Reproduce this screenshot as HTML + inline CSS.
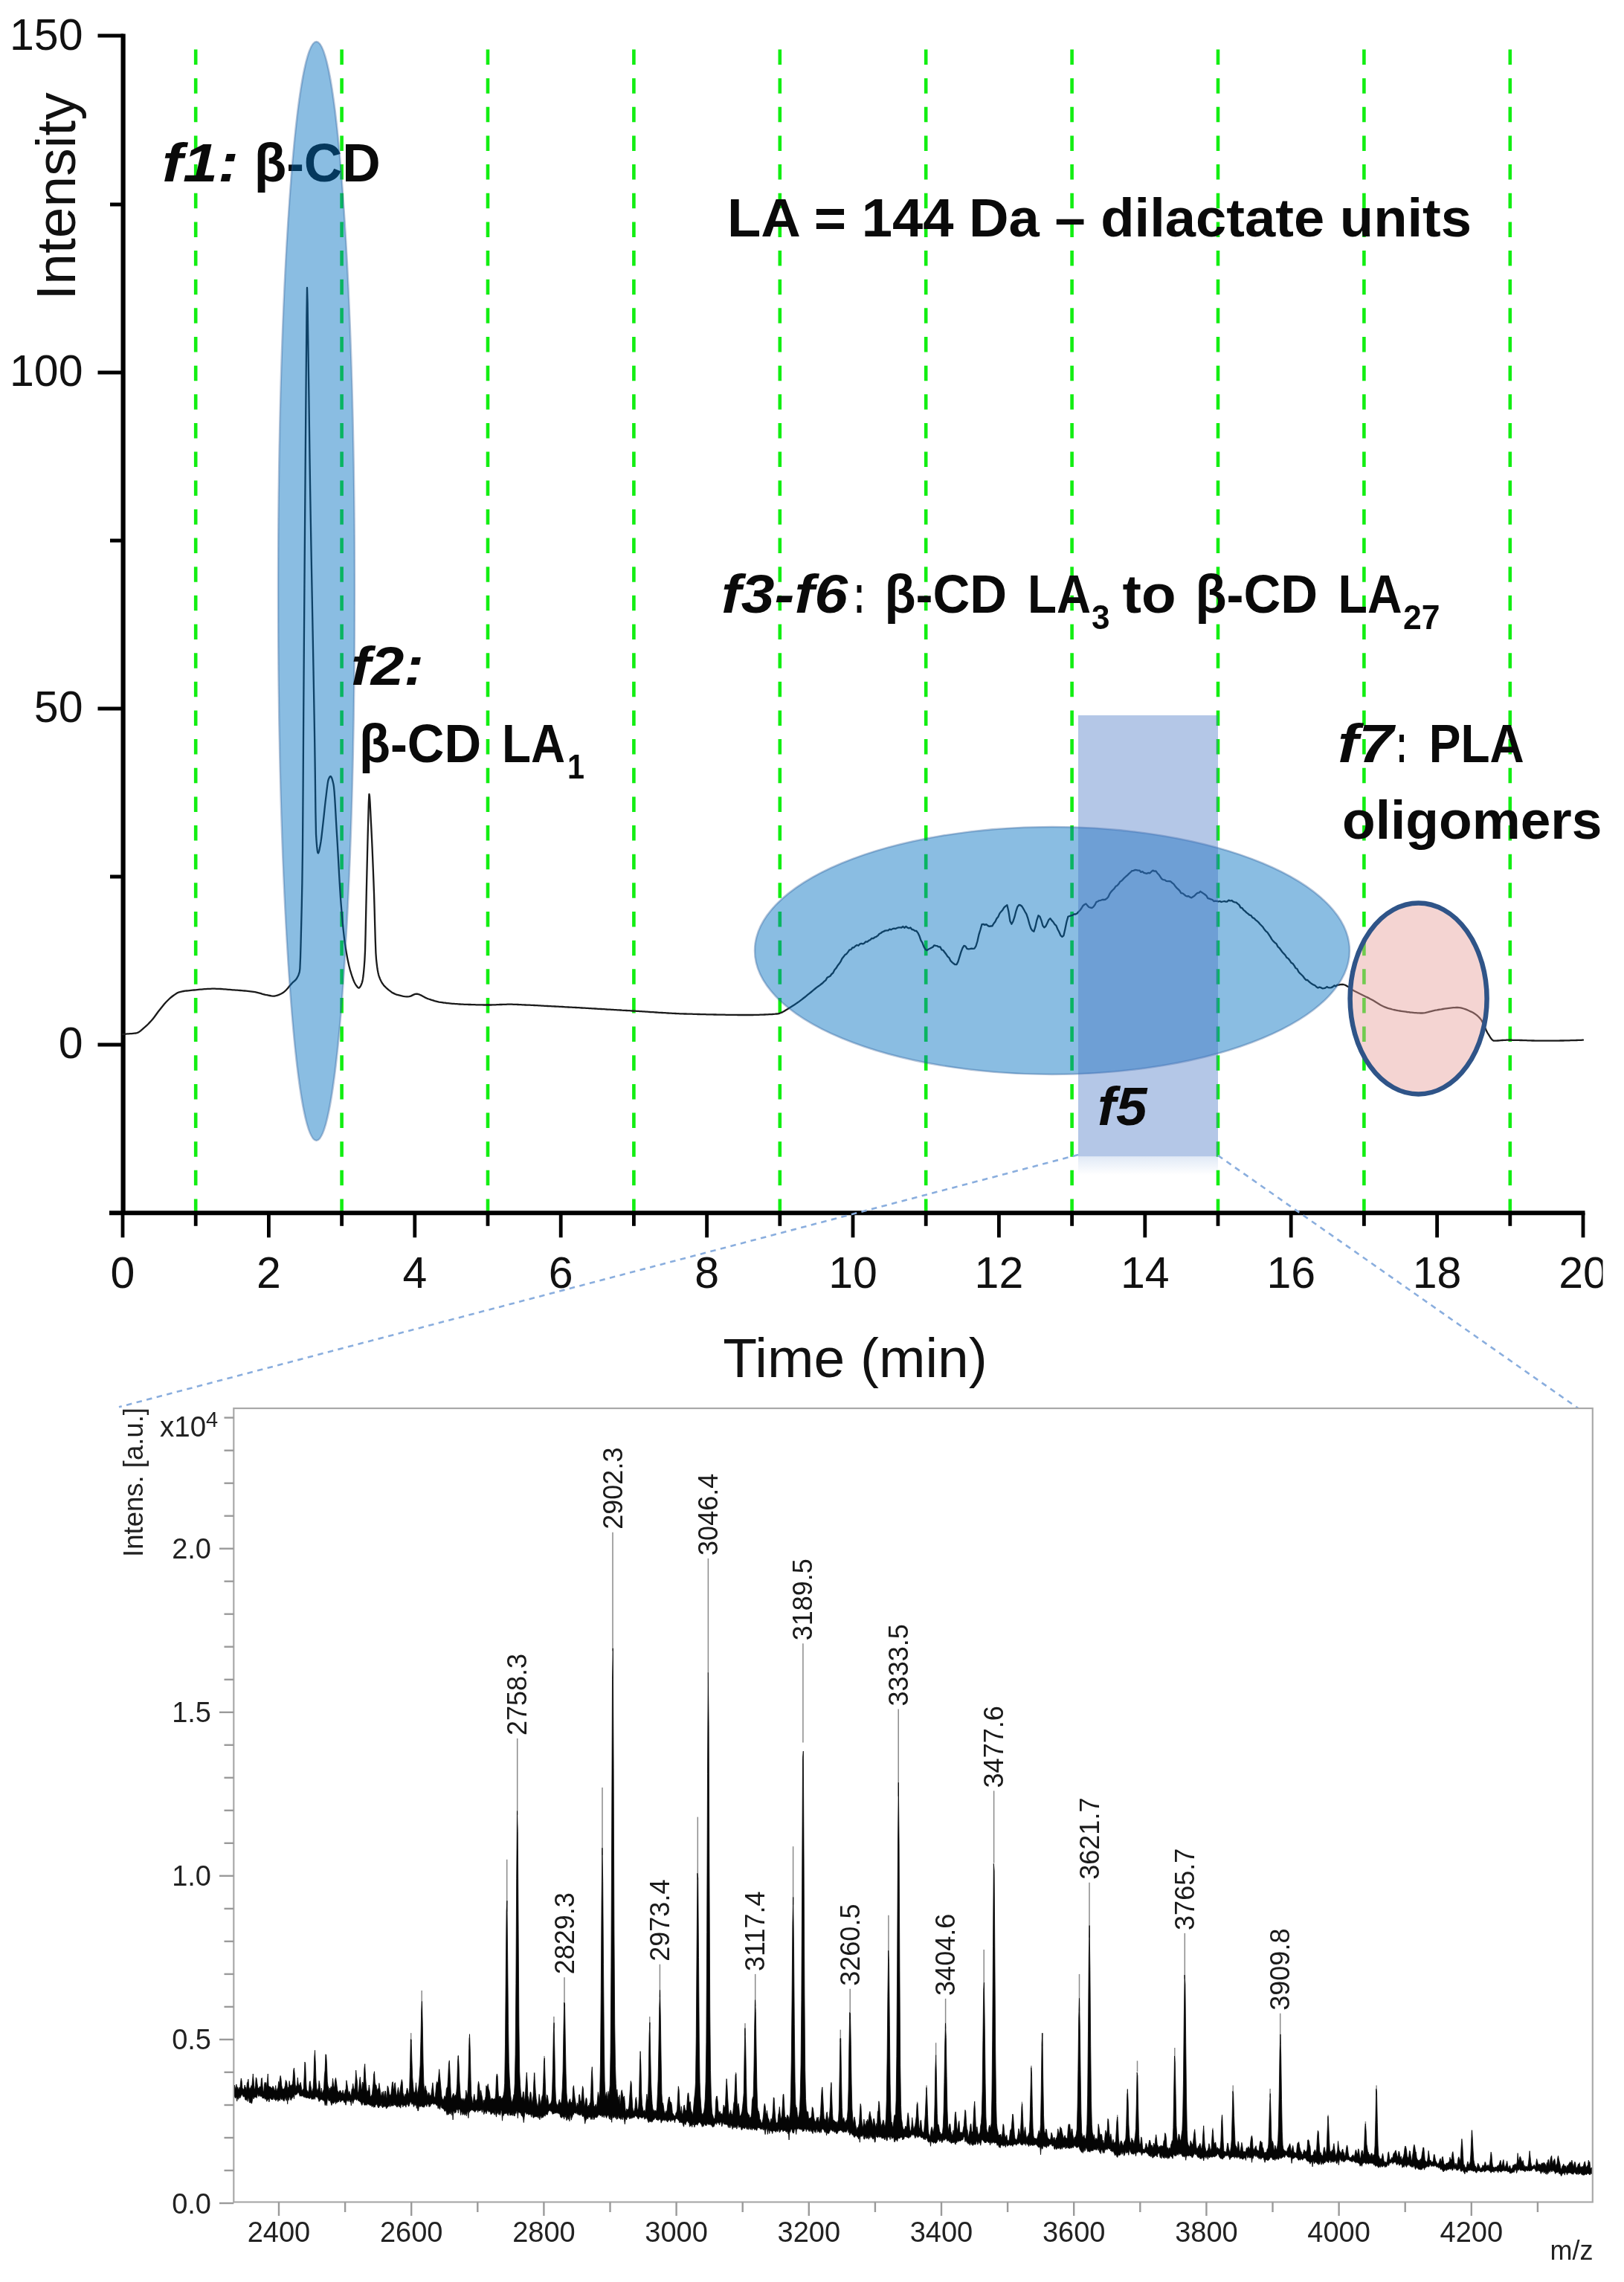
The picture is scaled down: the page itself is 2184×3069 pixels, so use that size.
<!DOCTYPE html>
<html lang="en"><head><meta charset="utf-8"><title>Chromatogram and MALDI spectrum</title>
<style>html,body{margin:0;padding:0;background:#fff}svg{display:block;filter:blur(0.7px)}</style></head>
<body>
<svg width="2184" height="3069" viewBox="0 0 2184 3069" font-family='"Liberation Sans", sans-serif'>
<rect width="2184" height="3069" fill="#fff"/>
<defs><clipPath id="clipR"><rect x="0" y="0" width="2155.5" height="3069"/></clipPath></defs>
<g stroke="#12ee12" stroke-width="4.6" stroke-dasharray="20.5 18.15" fill="none">
<line x1="263.2" y1="66.5" x2="263.2" y2="1630"/>
<line x1="459.6" y1="66.5" x2="459.6" y2="1630"/>
<line x1="656.0" y1="66.5" x2="656.0" y2="1630"/>
<line x1="852.4" y1="66.5" x2="852.4" y2="1630"/>
<line x1="1048.8" y1="66.5" x2="1048.8" y2="1630"/>
<line x1="1245.2" y1="66.5" x2="1245.2" y2="1630"/>
<line x1="1441.6" y1="66.5" x2="1441.6" y2="1630"/>
<line x1="1638.0" y1="66.5" x2="1638.0" y2="1630"/>
<line x1="1834.4" y1="66.5" x2="1834.4" y2="1630"/>
<line x1="2030.8" y1="66.5" x2="2030.8" y2="1630"/>
</g>
<g stroke="#000" fill="none">
<line x1="165.6" y1="45.5" x2="165.6" y2="1634" stroke-width="6.2"/>
<line x1="147" y1="1631.3" x2="2131.5" y2="1631.3" stroke-width="6"/>
<line x1="131.5" y1="48.0" x2="166" y2="48.0" stroke-width="5"/>
<line x1="131.5" y1="501.0" x2="166" y2="501.0" stroke-width="5"/>
<line x1="131.5" y1="953.0" x2="166" y2="953.0" stroke-width="5"/>
<line x1="131.5" y1="1405.0" x2="166" y2="1405.0" stroke-width="5"/>
<line x1="148" y1="275.0" x2="166" y2="275.0" stroke-width="5"/>
<line x1="148" y1="727.0" x2="166" y2="727.0" stroke-width="5"/>
<line x1="148" y1="1179.0" x2="166" y2="1179.0" stroke-width="5"/>
<line x1="165.0" y1="1631" x2="165.0" y2="1664.3" stroke-width="4.8"/>
<line x1="263.2" y1="1631" x2="263.2" y2="1648.8" stroke-width="4.8"/>
<line x1="361.4" y1="1631" x2="361.4" y2="1664.3" stroke-width="4.8"/>
<line x1="459.6" y1="1631" x2="459.6" y2="1648.8" stroke-width="4.8"/>
<line x1="557.8" y1="1631" x2="557.8" y2="1664.3" stroke-width="4.8"/>
<line x1="656.0" y1="1631" x2="656.0" y2="1648.8" stroke-width="4.8"/>
<line x1="754.2" y1="1631" x2="754.2" y2="1664.3" stroke-width="4.8"/>
<line x1="852.4" y1="1631" x2="852.4" y2="1648.8" stroke-width="4.8"/>
<line x1="950.6" y1="1631" x2="950.6" y2="1664.3" stroke-width="4.8"/>
<line x1="1048.8" y1="1631" x2="1048.8" y2="1648.8" stroke-width="4.8"/>
<line x1="1147.0" y1="1631" x2="1147.0" y2="1664.3" stroke-width="4.8"/>
<line x1="1245.2" y1="1631" x2="1245.2" y2="1648.8" stroke-width="4.8"/>
<line x1="1343.4" y1="1631" x2="1343.4" y2="1664.3" stroke-width="4.8"/>
<line x1="1441.6" y1="1631" x2="1441.6" y2="1648.8" stroke-width="4.8"/>
<line x1="1539.8" y1="1631" x2="1539.8" y2="1664.3" stroke-width="4.8"/>
<line x1="1638.0" y1="1631" x2="1638.0" y2="1648.8" stroke-width="4.8"/>
<line x1="1736.2" y1="1631" x2="1736.2" y2="1664.3" stroke-width="4.8"/>
<line x1="1834.4" y1="1631" x2="1834.4" y2="1648.8" stroke-width="4.8"/>
<line x1="1932.6" y1="1631" x2="1932.6" y2="1664.3" stroke-width="4.8"/>
<line x1="2030.8" y1="1631" x2="2030.8" y2="1648.8" stroke-width="4.8"/>
<line x1="2129.0" y1="1631" x2="2129.0" y2="1664.3" stroke-width="4.8"/>
</g>
<g font-size="59" fill="#111" clip-path="url(#clipR)">
<text x="111.5" y="66.5" text-anchor="end">150</text>
<text x="111.5" y="518.5" text-anchor="end">100</text>
<text x="111.5" y="970.5" text-anchor="end">50</text>
<text x="111.5" y="1422.5" text-anchor="end">0</text>
<text x="165.0" y="1732" text-anchor="middle">0</text>
<text x="361.4" y="1732" text-anchor="middle">2</text>
<text x="557.8" y="1732" text-anchor="middle">4</text>
<text x="754.2" y="1732" text-anchor="middle">6</text>
<text x="950.6" y="1732" text-anchor="middle">8</text>
<text x="1147.0" y="1732" text-anchor="middle">10</text>
<text x="1343.4" y="1732" text-anchor="middle">12</text>
<text x="1539.8" y="1732" text-anchor="middle">14</text>
<text x="1736.2" y="1732" text-anchor="middle">16</text>
<text x="1932.6" y="1732" text-anchor="middle">18</text>
<text x="2129.0" y="1732" text-anchor="middle">20</text>
</g>
<text x="1150" y="1852" font-size="75" text-anchor="middle" fill="#111">Time (min)</text>
<text transform="translate(101,264) rotate(-90)" font-size="75" text-anchor="middle" fill="#111">Intensity</text>
<polyline fill="none" stroke="#1a1a1a" stroke-width="2.3" stroke-linejoin="round" stroke-linecap="round" points="165.0,1391.0 167.0,1390.8 169.0,1390.6 171.0,1390.4 173.0,1390.3 175.0,1390.2 177.0,1390.1 179.0,1389.9 181.0,1389.7 183.0,1389.5 185.0,1388.9 187.0,1387.8 189.0,1386.3 191.0,1384.6 193.0,1382.8 195.0,1381.2 197.0,1379.4 199.0,1377.5 201.0,1375.4 203.0,1373.3 205.0,1371.0 207.0,1368.5 209.0,1365.8 211.0,1363.0 213.0,1360.3 215.0,1357.7 217.0,1355.2 219.0,1352.7 221.0,1350.3 223.0,1348.0 225.0,1346.0 227.0,1344.0 229.0,1342.2 231.0,1340.5 233.0,1339.0 235.0,1337.6 237.0,1336.3 239.0,1335.1 241.0,1334.3 243.0,1333.8 245.0,1333.4 247.0,1333.0 249.0,1332.7 251.0,1332.5 253.0,1332.3 255.0,1332.1 257.0,1331.9 259.0,1331.7 261.0,1331.5 263.0,1331.3 265.0,1331.1 267.0,1330.9 269.0,1330.7 271.0,1330.6 273.0,1330.4 275.0,1330.2 277.0,1330.1 279.0,1329.9 281.0,1329.8 283.0,1329.8 285.0,1329.7 287.0,1329.7 289.0,1329.7 291.0,1329.8 293.0,1329.8 295.0,1329.9 297.0,1330.0 299.0,1330.1 301.0,1330.3 303.0,1330.4 305.0,1330.6 307.0,1330.8 309.0,1330.9 311.0,1331.1 313.0,1331.3 315.0,1331.4 317.0,1331.6 319.0,1331.7 321.0,1331.9 323.0,1332.0 325.0,1332.2 327.0,1332.4 329.0,1332.5 331.0,1332.7 333.0,1332.9 335.0,1333.1 337.0,1333.3 339.0,1333.6 341.0,1333.9 343.0,1334.2 345.0,1334.6 347.0,1335.1 349.0,1335.6 351.0,1336.2 353.0,1336.8 355.0,1337.3 357.0,1337.8 359.0,1338.2 361.0,1338.6 363.0,1339.0 365.0,1339.4 367.0,1339.6 369.0,1339.6 371.0,1339.2 373.0,1338.6 375.0,1337.9 377.0,1337.0 379.0,1336.0 381.0,1334.8 383.0,1333.2 385.0,1331.2 387.0,1329.0 389.0,1326.6 391.0,1324.2 393.0,1321.9 395.0,1320.2 397.0,1318.4 399.0,1316.0 401.0,1312.2 401.6,1310.7 402.2,1309.0 402.8,1307.1 403.4,1302.3 404.0,1287.9 404.6,1266.8 405.2,1242.3 405.8,1217.3 406.4,1186.1 407.0,1140.2 407.6,1058.7 408.2,960.5 408.8,872.6 409.4,791.9 410.0,713.5 410.6,637.4 411.2,560.9 411.8,490.4 412.4,426.8 413.0,387.0 413.0,387.0 413.6,407.3 414.2,449.5 414.8,489.5 415.4,532.8 416.0,578.6 416.6,623.1 417.2,662.5 417.8,698.6 418.4,732.6 419.0,765.3 419.6,797.2 420.2,828.9 420.8,861.1 421.4,894.3 422.0,928.3 422.6,962.5 423.2,998.3 423.8,1041.1 424.4,1091.4 425.0,1121.7 425.6,1131.2 426.2,1138.7 426.8,1144.0 427.4,1146.9 428.0,1147.4 428.6,1146.3 429.2,1144.2 429.8,1141.4 430.4,1138.2 431.0,1135.0 431.6,1131.4 432.2,1127.0 432.8,1122.0 433.4,1116.7 434.0,1111.4 434.6,1106.1 435.2,1100.7 435.8,1095.1 436.4,1089.3 437.0,1083.6 437.6,1078.3 438.2,1073.4 438.8,1068.3 439.4,1063.2 440.0,1058.3 440.6,1053.9 441.2,1050.4 441.8,1048.1 442.4,1046.7 443.0,1045.5 443.6,1044.6 444.2,1044.1 444.5,1044.0 444.8,1044.1 445.4,1044.7 446.0,1045.9 446.6,1047.5 447.2,1049.6 447.8,1051.9 448.4,1054.5 449.0,1058.3 449.6,1064.7 450.2,1073.1 450.8,1082.9 451.4,1093.6 452.0,1104.6 452.6,1115.1 453.2,1124.9 453.8,1134.9 454.4,1145.5 455.0,1156.3 455.6,1167.3 456.2,1178.1 456.8,1188.5 457.4,1198.3 458.0,1207.3 458.6,1215.3 459.2,1222.7 459.8,1229.8 460.4,1236.6 461.0,1243.1 461.6,1249.3 462.2,1255.0 462.8,1260.3 463.4,1265.2 464.0,1269.5 464.6,1273.5 465.2,1277.3 465.8,1280.9 466.4,1284.3 467.0,1287.6 467.6,1290.7 468.2,1293.6 468.8,1296.3 469.4,1298.9 470.0,1301.3 470.6,1303.6 471.2,1305.7 471.8,1307.7 472.4,1309.7 473.0,1311.5 473.6,1313.3 474.2,1315.0 474.8,1316.7 475.4,1318.2 476.0,1319.7 476.6,1321.0 477.2,1322.2 477.8,1323.3 478.4,1324.3 479.0,1325.2 479.6,1326.0 480.2,1326.8 480.8,1327.6 481.4,1328.1 482.0,1328.5 482.6,1328.6 483.2,1328.4 483.8,1327.8 484.4,1327.0 485.0,1326.0 485.6,1324.7 486.2,1323.2 486.8,1321.6 487.4,1319.6 488.0,1316.4 488.6,1312.0 489.2,1306.3 489.8,1299.3 490.4,1291.1 491.0,1278.7 491.6,1255.8 492.2,1227.5 492.8,1199.8 493.4,1174.5 494.0,1148.8 494.6,1125.2 495.2,1102.6 495.8,1080.3 496.4,1068.3 496.5,1068.0 497.0,1070.6 497.6,1079.0 498.2,1090.8 498.8,1103.2 499.4,1114.6 500.0,1127.0 500.6,1140.4 501.2,1154.6 501.8,1169.5 502.4,1185.0 503.0,1201.3 503.6,1221.6 504.2,1244.1 504.8,1265.2 505.4,1281.5 506.0,1290.1 506.6,1295.7 507.2,1300.5 507.8,1304.5 508.4,1307.8 509.0,1310.5 509.6,1312.6 510.2,1314.3 510.8,1315.8 511.4,1317.2 512.0,1318.5 512.6,1319.7 513.2,1320.8 513.8,1321.8 514.4,1322.8 515.0,1323.6 515.6,1324.4 516.2,1325.2 516.8,1325.9 517.4,1326.5 518.0,1327.2 518.6,1327.7 519.2,1328.3 519.8,1328.9 520.4,1329.4 522.4,1331.2 524.4,1332.7 526.4,1334.2 528.4,1335.4 530.4,1336.4 532.4,1337.3 534.4,1337.9 536.4,1338.4 538.4,1338.9 540.4,1339.4 542.4,1339.8 544.4,1340.1 546.4,1340.3 548.4,1340.4 550.4,1340.2 552.4,1339.6 554.4,1338.6 556.4,1337.6 558.4,1336.9 560.4,1336.7 562.4,1337.0 564.4,1337.7 566.4,1338.6 568.4,1339.7 570.4,1340.8 572.4,1341.9 574.4,1342.8 576.4,1343.5 578.4,1344.1 580.4,1344.8 582.4,1345.4 584.4,1346.1 586.4,1346.6 588.4,1347.1 590.4,1347.6 592.4,1347.9 594.4,1348.2 596.4,1348.5 598.4,1348.7 600.4,1349.0 602.4,1349.2 604.4,1349.4 606.4,1349.6 608.4,1349.8 610.4,1349.9 612.4,1350.1 614.4,1350.2 616.4,1350.4 618.4,1350.5 620.4,1350.6 622.4,1350.7 624.4,1350.8 626.4,1350.8 628.4,1350.9 630.4,1351.0 632.4,1351.0 634.4,1351.1 636.4,1351.2 638.4,1351.2 640.4,1351.3 642.4,1351.3 644.4,1351.4 646.4,1351.4 648.4,1351.4 650.4,1351.5 652.4,1351.5 654.4,1351.5 656.4,1351.5 658.4,1351.5 660.4,1351.5 662.4,1351.4 664.4,1351.3 666.4,1351.3 668.4,1351.2 670.4,1351.1 672.4,1351.0 674.4,1351.0 676.4,1350.9 678.4,1350.8 680.4,1350.8 682.4,1350.7 684.4,1350.7 686.4,1350.7 688.4,1350.7 690.4,1350.8 692.4,1350.9 694.4,1350.9 696.4,1351.0 698.4,1351.1 700.4,1351.2 702.4,1351.3 704.4,1351.4 706.4,1351.5 708.4,1351.6 710.4,1351.6 712.4,1351.7 714.4,1351.8 716.4,1351.9 718.4,1352.0 720.4,1352.1 722.4,1352.2 724.4,1352.3 726.4,1352.4 728.4,1352.6 730.4,1352.7 732.4,1352.8 734.4,1352.9 736.4,1353.0 738.4,1353.1 740.4,1353.2 742.4,1353.3 744.4,1353.4 746.4,1353.5 748.4,1353.6 750.4,1353.7 752.4,1353.8 754.4,1353.9 756.4,1354.0 758.4,1354.1 760.4,1354.3 762.4,1354.4 764.4,1354.5 766.4,1354.6 768.4,1354.7 770.4,1354.8 772.4,1354.9 774.4,1355.0 776.4,1355.1 778.4,1355.2 780.4,1355.4 782.4,1355.5 784.4,1355.6 786.4,1355.7 788.4,1355.8 790.4,1355.9 792.4,1356.1 794.4,1356.2 796.4,1356.3 798.4,1356.4 800.4,1356.5 802.4,1356.6 804.4,1356.8 806.4,1356.9 808.4,1357.0 810.4,1357.1 812.4,1357.2 814.4,1357.3 816.4,1357.5 818.4,1357.6 820.4,1357.7 822.4,1357.8 824.4,1357.9 826.4,1358.1 828.4,1358.2 830.4,1358.3 832.4,1358.4 834.4,1358.5 836.4,1358.7 838.4,1358.8 840.4,1358.9 842.4,1359.0 844.4,1359.1 846.4,1359.2 848.4,1359.4 850.4,1359.5 852.4,1359.6 854.4,1359.7 856.4,1359.8 858.4,1359.9 860.4,1360.1 862.4,1360.2 864.4,1360.3 866.4,1360.4 868.4,1360.6 870.4,1360.7 872.4,1360.8 874.4,1361.0 876.4,1361.1 878.4,1361.2 880.4,1361.4 882.4,1361.5 884.4,1361.6 886.4,1361.8 888.4,1361.9 890.4,1362.0 892.4,1362.1 894.4,1362.2 896.4,1362.4 898.4,1362.5 900.4,1362.6 902.4,1362.7 904.4,1362.8 906.4,1362.9 908.4,1363.0 910.4,1363.1 912.4,1363.2 914.4,1363.3 916.4,1363.3 918.4,1363.4 920.4,1363.5 922.4,1363.5 924.4,1363.6 926.4,1363.6 928.4,1363.7 930.4,1363.7 932.4,1363.8 934.4,1363.8 936.4,1363.9 938.4,1364.0 940.4,1364.0 942.4,1364.1 944.4,1364.1 946.4,1364.2 948.4,1364.2 950.4,1364.3 952.4,1364.3 954.4,1364.3 956.4,1364.4 958.4,1364.4 960.4,1364.5 962.4,1364.5 964.4,1364.6 966.4,1364.6 968.4,1364.6 970.4,1364.7 972.4,1364.7 974.4,1364.7 976.4,1364.8 978.4,1364.8 980.4,1364.8 982.4,1364.9 984.4,1364.9 986.4,1364.9 988.4,1364.9 990.4,1364.9 992.4,1365.0 994.4,1365.0 996.4,1365.0 998.4,1365.0 1000.4,1365.0 1002.4,1365.0 1004.4,1365.0 1006.4,1365.0 1008.4,1365.0 1010.4,1365.0 1012.4,1365.0 1014.4,1364.9 1016.4,1364.9 1018.4,1364.8 1020.4,1364.8 1022.4,1364.7 1024.4,1364.7 1026.4,1364.6 1028.4,1364.5 1030.4,1364.4 1032.4,1364.3 1034.4,1364.2 1036.4,1364.1 1038.4,1364.0 1040.4,1363.8 1042.4,1363.7 1044.4,1363.5 1046.4,1363.3 1048.4,1362.8 1050.4,1362.0 1052.4,1361.1 1054.4,1360.0 1056.4,1358.8 1058.4,1357.6 1060.4,1356.3 1062.4,1355.0 1064.4,1353.8 1066.4,1352.5 1068.4,1351.3 1070.4,1349.9 1072.4,1348.5 1074.4,1347.1 1076.4,1345.6 1078.4,1344.1 1080.4,1342.5 1082.4,1341.0 1084.4,1339.4 1086.4,1337.7 1088.4,1336.1 1090.4,1334.5 1092.4,1332.8 1094.4,1331.2 1096.4,1329.5 1098.4,1327.9 1100.4,1326.5 1102.4,1325.1 1104.4,1323.5 1106.4,1322.0 1108.4,1319.9 1110.4,1318.4 1112.4,1314.8 1114.4,1313.7 1116.4,1312.7 1118.4,1310.0 1120.4,1308.3 1122.4,1304.2 1124.4,1302.1 1126.4,1298.8 1128.4,1296.3 1130.4,1293.4 1132.4,1289.2 1134.4,1286.7 1136.4,1284.1 1138.4,1282.9 1140.4,1280.4 1142.4,1277.3 1144.4,1277.1 1146.4,1274.5 1148.4,1274.3 1150.4,1272.2 1152.4,1271.0 1154.4,1271.8 1156.4,1269.6 1158.4,1268.8 1160.4,1269.5 1162.4,1268.4 1164.4,1266.3 1166.4,1266.7 1168.4,1264.9 1170.4,1264.0 1172.4,1261.9 1174.4,1262.2 1176.4,1260.5 1178.4,1259.8 1180.4,1258.4 1182.4,1256.0 1184.4,1255.0 1186.4,1253.5 1188.4,1252.6 1190.4,1251.6 1192.4,1251.4 1194.4,1251.4 1196.4,1249.6 1198.4,1250.4 1200.4,1249.1 1202.4,1248.6 1204.4,1249.1 1206.4,1248.0 1208.4,1247.3 1210.4,1247.3 1212.4,1247.5 1214.4,1246.0 1216.4,1247.8 1218.4,1245.9 1220.4,1247.7 1222.4,1248.4 1224.4,1247.5 1226.4,1250.0 1228.4,1250.3 1230.4,1251.9 1232.4,1252.0 1234.4,1254.6 1236.4,1258.7 1238.4,1264.7 1240.4,1267.9 1242.4,1273.2 1244.4,1276.6 1246.4,1278.1 1248.4,1276.7 1250.4,1275.8 1252.4,1274.8 1254.4,1273.8 1256.4,1271.3 1258.4,1271.9 1260.4,1272.2 1262.4,1273.4 1264.4,1273.5 1266.4,1277.4 1268.4,1278.0 1270.4,1280.7 1272.4,1283.3 1274.4,1286.4 1276.4,1288.1 1278.4,1292.2 1280.4,1294.1 1282.4,1295.8 1284.4,1297.2 1286.4,1297.2 1288.4,1293.4 1290.4,1286.8 1292.4,1280.3 1294.4,1275.1 1296.4,1271.8 1298.4,1272.5 1300.4,1275.9 1302.4,1276.3 1304.4,1276.2 1306.4,1275.6 1308.4,1275.9 1310.4,1275.7 1312.4,1272.5 1314.4,1266.0 1316.4,1256.9 1318.4,1250.5 1320.4,1243.2 1322.4,1242.9 1324.4,1243.9 1326.4,1243.1 1328.4,1244.9 1330.4,1245.9 1332.4,1245.5 1334.4,1245.4 1336.4,1242.0 1338.4,1239.6 1340.4,1235.3 1342.4,1232.9 1344.4,1228.4 1346.4,1225.9 1348.4,1223.7 1350.4,1220.4 1352.4,1218.6 1354.4,1217.2 1356.4,1226.1 1358.4,1238.8 1360.4,1242.8 1362.4,1239.2 1364.4,1233.2 1366.4,1225.3 1368.4,1219.4 1370.4,1217.0 1372.4,1217.3 1374.4,1219.0 1376.4,1222.3 1378.4,1226.0 1380.4,1229.4 1382.4,1235.2 1384.4,1242.6 1386.4,1248.6 1388.4,1251.6 1390.4,1252.7 1392.4,1246.4 1394.4,1237.3 1396.4,1231.3 1398.4,1232.6 1400.4,1237.8 1402.4,1245.1 1404.4,1247.4 1406.4,1245.6 1408.4,1241.4 1410.4,1237.0 1412.4,1235.2 1414.4,1237.9 1416.4,1240.0 1418.4,1243.1 1420.4,1244.9 1422.4,1249.7 1424.4,1253.5 1426.4,1258.1 1428.4,1259.8 1430.4,1258.3 1432.4,1249.4 1434.4,1239.7 1436.4,1232.8 1438.4,1232.0 1440.4,1231.3 1442.4,1230.8 1444.4,1229.3 1446.4,1229.5 1448.4,1228.5 1450.4,1226.2 1452.4,1224.2 1454.4,1221.5 1456.4,1218.2 1458.4,1216.5 1460.4,1215.4 1462.4,1217.9 1464.4,1220.0 1466.4,1220.6 1468.4,1221.2 1470.4,1219.6 1472.4,1217.0 1474.4,1213.1 1476.4,1212.3 1478.4,1211.1 1480.4,1210.8 1482.4,1210.0 1484.4,1210.0 1486.4,1209.8 1488.4,1208.4 1490.4,1206.2 1492.4,1201.9 1494.4,1199.1 1496.4,1197.0 1498.4,1195.2 1500.4,1192.1 1502.4,1191.0 1504.4,1188.8 1506.4,1185.7 1508.4,1184.6 1510.4,1182.4 1512.4,1180.3 1514.4,1178.5 1516.4,1176.9 1518.4,1174.8 1520.4,1173.0 1522.4,1171.2 1524.4,1170.9 1526.4,1170.0 1528.4,1170.2 1530.4,1170.6 1532.4,1170.6 1534.4,1172.9 1536.4,1172.1 1538.4,1173.9 1540.4,1174.3 1542.4,1174.8 1544.4,1173.8 1546.4,1174.3 1548.4,1172.2 1550.4,1170.6 1552.4,1171.6 1554.4,1171.4 1556.4,1174.2 1558.4,1176.2 1560.4,1179.2 1562.4,1182.1 1564.4,1183.2 1566.4,1183.3 1568.4,1184.8 1570.4,1185.1 1572.4,1185.2 1574.4,1185.5 1576.4,1187.4 1578.4,1188.9 1580.4,1191.7 1582.4,1194.1 1584.4,1195.9 1586.4,1197.9 1588.4,1201.2 1590.4,1201.4 1592.4,1202.9 1594.4,1204.7 1596.4,1205.5 1598.4,1205.2 1600.4,1206.6 1602.4,1207.4 1604.4,1206.0 1606.4,1204.8 1608.4,1202.6 1610.4,1200.9 1612.4,1200.7 1614.4,1198.8 1616.4,1200.3 1618.4,1201.6 1620.4,1203.0 1622.4,1204.6 1624.4,1208.1 1626.4,1208.7 1628.4,1209.4 1630.4,1210.0 1632.4,1212.0 1634.4,1211.7 1636.4,1211.8 1638.4,1212.5 1640.4,1212.0 1642.4,1213.0 1644.4,1212.5 1646.4,1212.0 1648.4,1212.7 1650.4,1212.5 1652.4,1210.6 1654.4,1211.5 1656.4,1211.0 1658.4,1212.7 1660.4,1213.3 1662.4,1213.6 1664.4,1215.3 1666.4,1216.9 1668.4,1220.6 1670.4,1221.2 1672.4,1223.8 1674.4,1225.4 1676.4,1227.3 1678.4,1228.8 1680.4,1230.7 1682.4,1231.1 1684.4,1234.1 1686.4,1234.8 1688.4,1237.1 1690.4,1238.5 1692.4,1240.3 1694.4,1242.8 1696.4,1244.8 1698.4,1246.8 1700.4,1250.0 1702.4,1252.3 1704.4,1253.8 1706.4,1256.8 1708.4,1259.9 1710.4,1263.4 1712.4,1265.9 1714.4,1267.7 1716.4,1269.1 1718.4,1273.1 1720.4,1274.8 1722.4,1277.5 1724.4,1280.2 1726.4,1282.4 1728.4,1284.5 1730.4,1287.8 1732.4,1289.1 1734.4,1291.5 1736.4,1294.7 1738.4,1295.8 1740.4,1298.4 1742.4,1302.0 1744.4,1303.0 1746.4,1307.0 1748.4,1309.2 1750.4,1311.0 1752.4,1313.0 1754.4,1315.9 1756.4,1318.0 1758.4,1318.0 1760.4,1320.2 1762.4,1321.9 1764.4,1323.3 1766.4,1324.4 1768.4,1325.3 1770.4,1327.3 1772.4,1328.5 1774.4,1327.6 1776.4,1328.2 1778.4,1329.3 1780.4,1329.1 1782.4,1328.6 1784.4,1327.1 1786.4,1328.2 1788.4,1328.4 1790.4,1328.1 1792.4,1327.1 1794.4,1325.4 1796.4,1326.4 1798.4,1324.6 1800.4,1324.6 1802.4,1324.2 1804.4,1323.9 1806.4,1324.0 1808.4,1324.5 1810.4,1325.5 1812.4,1326.7 1814.4,1328.2 1816.4,1329.7 1818.4,1331.1 1820.4,1332.2 1822.4,1333.3 1824.4,1334.3 1826.4,1335.3 1828.4,1336.3 1830.4,1337.2 1832.4,1338.2 1834.4,1339.2 1836.4,1340.2 1838.4,1341.1 1840.4,1342.1 1842.4,1343.2 1844.4,1344.2 1846.4,1345.3 1848.4,1346.5 1850.4,1347.8 1852.4,1349.0 1854.4,1350.2 1856.4,1351.4 1858.4,1352.5 1860.4,1353.5 1862.4,1354.4 1864.4,1355.1 1866.4,1355.8 1868.4,1356.4 1870.4,1356.9 1872.4,1357.5 1874.4,1358.0 1876.4,1358.4 1878.4,1358.8 1880.4,1359.2 1882.4,1359.5 1884.4,1359.8 1886.4,1360.1 1888.4,1360.4 1890.4,1360.7 1892.4,1361.0 1894.4,1361.2 1896.4,1361.5 1898.4,1361.7 1900.4,1361.9 1902.4,1362.1 1904.4,1362.2 1906.4,1362.4 1908.4,1362.4 1910.4,1362.5 1912.4,1362.5 1914.4,1362.3 1916.4,1362.1 1918.4,1361.7 1920.4,1361.2 1922.4,1360.6 1924.4,1360.1 1926.4,1359.6 1928.4,1359.1 1930.4,1358.7 1932.4,1358.4 1934.4,1358.0 1936.4,1357.7 1938.4,1357.4 1940.4,1357.0 1942.4,1356.7 1944.4,1356.4 1946.4,1356.1 1948.4,1355.8 1950.4,1355.6 1952.4,1355.4 1954.4,1355.2 1956.4,1355.1 1958.4,1355.0 1960.4,1355.0 1962.4,1355.1 1964.4,1355.4 1966.4,1355.9 1968.4,1356.5 1970.4,1357.2 1972.4,1357.9 1974.4,1358.8 1976.4,1359.7 1978.4,1360.6 1980.4,1361.5 1982.4,1362.7 1984.4,1364.1 1986.4,1365.7 1988.4,1367.5 1990.4,1369.6 1992.4,1372.1 1994.4,1375.9 1996.4,1380.4 1998.4,1385.0 2000.4,1389.0 2002.4,1392.2 2004.4,1395.5 2006.4,1398.1 2008.4,1399.6 2010.4,1399.7 2012.4,1399.6 2014.4,1399.5 2016.4,1399.4 2018.4,1399.2 2020.4,1399.0 2022.4,1398.9 2024.4,1398.8 2026.4,1398.7 2028.4,1398.7 2030.4,1398.7 2032.4,1398.7 2034.4,1398.8 2036.4,1398.8 2038.4,1398.8 2040.4,1398.9 2042.4,1398.9 2044.4,1399.0 2046.4,1399.0 2048.4,1399.1 2050.4,1399.2 2052.4,1399.2 2054.4,1399.3 2056.4,1399.3 2058.4,1399.4 2060.4,1399.5 2062.4,1399.5 2064.4,1399.6 2066.4,1399.6 2068.4,1399.6 2070.4,1399.7 2072.4,1399.7 2074.4,1399.7 2076.4,1399.7 2078.4,1399.7 2080.4,1399.7 2082.4,1399.7 2084.4,1399.7 2086.4,1399.7 2088.4,1399.6 2090.4,1399.6 2092.4,1399.6 2094.4,1399.6 2096.4,1399.6 2098.4,1399.5 2100.4,1399.5 2102.4,1399.5 2104.4,1399.4 2106.4,1399.4 2108.4,1399.3 2110.4,1399.3 2112.4,1399.2 2114.4,1399.2 2116.4,1399.1 2118.4,1399.1 2120.4,1399.0 2122.4,1398.9 2124.4,1398.9 2126.4,1398.8 2128.4,1398.7 2129.0,1398.7"/>
<text x="218.0" y="244.0" font-size="72" font-weight="bold" font-style="italic" textLength="103.0" lengthAdjust="spacingAndGlyphs" text-anchor="start" fill="#0a0a0a">f1:</text>
<text x="341.7" y="244.0" font-size="72" font-weight="bold" textLength="170.0" lengthAdjust="spacingAndGlyphs" text-anchor="start" fill="#0a0a0a">β-CD</text>
<ellipse cx="425.5" cy="795" rx="51.5" ry="739" fill="rgba(0,112,192,0.46)" stroke="rgba(40,90,150,0.35)" stroke-width="2.5"/>
<ellipse cx="1415" cy="1278.5" rx="400" ry="166.5" fill="rgba(0,112,192,0.46)" stroke="rgba(40,90,150,0.35)" stroke-width="2.5"/>
<defs><linearGradient id="refl" x1="0" y1="0" x2="0" y2="1"><stop offset="0" stop-color="rgba(120,160,215,0.22)"/><stop offset="1" stop-color="rgba(120,160,215,0)"/></linearGradient></defs>
<rect x="1450" y="962" width="188" height="593.5" fill="rgba(68,114,196,0.40)"/>
<rect x="1450" y="1556" width="188" height="24" fill="url(#refl)"/>
<ellipse cx="1907.6" cy="1343" rx="92" ry="128.5" fill="rgba(230,160,155,0.45)" stroke="#2f5488" stroke-width="6.5"/>
<text x="978.0" y="317.5" font-size="72" font-weight="bold" textLength="1001.0" lengthAdjust="spacingAndGlyphs" text-anchor="start" fill="#0a0a0a">LA = 144 Da – dilactate units</text>
<text x="970.0" y="823.6" font-size="72" font-weight="bold" font-style="italic" textLength="170.0" lengthAdjust="spacingAndGlyphs" text-anchor="start" fill="#0a0a0a">f3-f6</text>
<text x="1148.5" y="823.6" font-size="72" font-weight="bold" textLength="14.0" lengthAdjust="spacingAndGlyphs" text-anchor="start" fill="#0a0a0a">:</text>
<text x="1189.4" y="823.6" font-size="72" font-weight="bold" textLength="164.7" lengthAdjust="spacingAndGlyphs" text-anchor="start" fill="#0a0a0a">β-CD</text>
<text x="1382.0" y="823.6" font-size="72" font-weight="bold" textLength="85.0" lengthAdjust="spacingAndGlyphs" text-anchor="start" fill="#0a0a0a">LA</text>
<text x="1468.0" y="845.6" font-size="46" font-weight="bold" textLength="24.5" lengthAdjust="spacingAndGlyphs" text-anchor="start" fill="#0a0a0a">3</text>
<text x="1509.6" y="823.6" font-size="72" font-weight="bold" textLength="72.0" lengthAdjust="spacingAndGlyphs" text-anchor="start" fill="#0a0a0a">to</text>
<text x="1607.5" y="823.6" font-size="72" font-weight="bold" textLength="164.5" lengthAdjust="spacingAndGlyphs" text-anchor="start" fill="#0a0a0a">β-CD</text>
<text x="1799.6" y="823.6" font-size="72" font-weight="bold" textLength="86.0" lengthAdjust="spacingAndGlyphs" text-anchor="start" fill="#0a0a0a">LA</text>
<text x="1887.0" y="845.6" font-size="46" font-weight="bold" textLength="49.5" lengthAdjust="spacingAndGlyphs" text-anchor="start" fill="#0a0a0a">27</text>
<text x="472.0" y="921.4" font-size="72" font-weight="bold" font-style="italic" textLength="98.0" lengthAdjust="spacingAndGlyphs" text-anchor="start" fill="#0a0a0a">f2:</text>
<text x="483.0" y="1024.9" font-size="72" font-weight="bold" textLength="164.0" lengthAdjust="spacingAndGlyphs" text-anchor="start" fill="#0a0a0a">β-CD</text>
<text x="675.0" y="1024.9" font-size="72" font-weight="bold" textLength="85.0" lengthAdjust="spacingAndGlyphs" text-anchor="start" fill="#0a0a0a">LA</text>
<text x="763.0" y="1047.0" font-size="46" font-weight="bold" textLength="23.0" lengthAdjust="spacingAndGlyphs" text-anchor="start" fill="#0a0a0a">1</text>
<g clip-path="url(#clipR)">
<text x="1799.0" y="1024.6" font-size="72" font-weight="bold" font-style="italic" textLength="75.0" lengthAdjust="spacingAndGlyphs" text-anchor="start" fill="#0a0a0a">f7</text>
<text x="1878.0" y="1024.6" font-size="72" font-weight="bold" textLength="14.0" lengthAdjust="spacingAndGlyphs" text-anchor="start" fill="#0a0a0a">:</text>
<text x="1921.8" y="1024.6" font-size="72" font-weight="bold" textLength="128.0" lengthAdjust="spacingAndGlyphs" text-anchor="start" fill="#0a0a0a">PLA</text>
<text x="1805.0" y="1128.0" font-size="72" font-weight="bold" textLength="349.5" lengthAdjust="spacingAndGlyphs" text-anchor="start" fill="#0a0a0a">oligomers</text>
</g>
<text x="1476.0" y="1513.0" font-size="72" font-weight="bold" font-style="italic" textLength="66.5" lengthAdjust="spacingAndGlyphs" text-anchor="start" fill="#0a0a0a">f5</text>
<g stroke="#8aaede" stroke-width="2.6" stroke-dasharray="7.5 6.5" fill="none">
<line x1="1450" y1="1553" x2="160" y2="1892.3"/>
<line x1="1638" y1="1554" x2="2122.5" y2="1894"/>
</g>
<rect x="314.3" y="1894.0" width="1827.5" height="1067.5" fill="none" stroke="#a9a9a9" stroke-width="2.2"/>
<g stroke="#9a9a9a" stroke-width="2.4">
<line x1="295" y1="2963.0" x2="314.3" y2="2963.0"/>
<line x1="301.5" y1="2919.0" x2="314.3" y2="2919.0"/>
<line x1="301.5" y1="2875.0" x2="314.3" y2="2875.0"/>
<line x1="301.5" y1="2831.0" x2="314.3" y2="2831.0"/>
<line x1="301.5" y1="2786.9" x2="314.3" y2="2786.9"/>
<line x1="295" y1="2742.9" x2="314.3" y2="2742.9"/>
<line x1="301.5" y1="2698.9" x2="314.3" y2="2698.9"/>
<line x1="301.5" y1="2654.9" x2="314.3" y2="2654.9"/>
<line x1="301.5" y1="2610.9" x2="314.3" y2="2610.9"/>
<line x1="301.5" y1="2566.9" x2="314.3" y2="2566.9"/>
<line x1="295" y1="2522.8" x2="314.3" y2="2522.8"/>
<line x1="301.5" y1="2478.8" x2="314.3" y2="2478.8"/>
<line x1="301.5" y1="2434.8" x2="314.3" y2="2434.8"/>
<line x1="301.5" y1="2390.8" x2="314.3" y2="2390.8"/>
<line x1="301.5" y1="2346.8" x2="314.3" y2="2346.8"/>
<line x1="295" y1="2302.8" x2="314.3" y2="2302.8"/>
<line x1="301.5" y1="2258.8" x2="314.3" y2="2258.8"/>
<line x1="301.5" y1="2214.7" x2="314.3" y2="2214.7"/>
<line x1="301.5" y1="2170.7" x2="314.3" y2="2170.7"/>
<line x1="301.5" y1="2126.7" x2="314.3" y2="2126.7"/>
<line x1="295" y1="2082.7" x2="314.3" y2="2082.7"/>
<line x1="301.5" y1="2038.7" x2="314.3" y2="2038.7"/>
<line x1="301.5" y1="1994.7" x2="314.3" y2="1994.7"/>
<line x1="301.5" y1="1950.7" x2="314.3" y2="1950.7"/>
<line x1="301.5" y1="1906.6" x2="314.3" y2="1906.6"/>
<line x1="375.0" y1="2961.5" x2="375.0" y2="2980.0"/>
<line x1="464.1" y1="2961.5" x2="464.1" y2="2975.0"/>
<line x1="553.2" y1="2961.5" x2="553.2" y2="2980.0"/>
<line x1="642.3" y1="2961.5" x2="642.3" y2="2975.0"/>
<line x1="731.4" y1="2961.5" x2="731.4" y2="2980.0"/>
<line x1="820.5" y1="2961.5" x2="820.5" y2="2975.0"/>
<line x1="909.6" y1="2961.5" x2="909.6" y2="2980.0"/>
<line x1="998.7" y1="2961.5" x2="998.7" y2="2975.0"/>
<line x1="1087.8" y1="2961.5" x2="1087.8" y2="2980.0"/>
<line x1="1176.9" y1="2961.5" x2="1176.9" y2="2975.0"/>
<line x1="1266.0" y1="2961.5" x2="1266.0" y2="2980.0"/>
<line x1="1355.1" y1="2961.5" x2="1355.1" y2="2975.0"/>
<line x1="1444.2" y1="2961.5" x2="1444.2" y2="2980.0"/>
<line x1="1533.3" y1="2961.5" x2="1533.3" y2="2975.0"/>
<line x1="1622.4" y1="2961.5" x2="1622.4" y2="2980.0"/>
<line x1="1711.5" y1="2961.5" x2="1711.5" y2="2975.0"/>
<line x1="1800.6" y1="2961.5" x2="1800.6" y2="2980.0"/>
<line x1="1889.7" y1="2961.5" x2="1889.7" y2="2975.0"/>
<line x1="1978.8" y1="2961.5" x2="1978.8" y2="2980.0"/>
<line x1="2067.9" y1="2961.5" x2="2067.9" y2="2975.0"/>
</g>
<g font-size="38" fill="#222">
<text x="284" y="2976.5" text-anchor="end">0.0</text>
<text x="284" y="2756.4" text-anchor="end">0.5</text>
<text x="284" y="2536.3" text-anchor="end">1.0</text>
<text x="284" y="2316.3" text-anchor="end">1.5</text>
<text x="284" y="2096.2" text-anchor="end">2.0</text>
<text x="375.0" y="3015" text-anchor="middle">2400</text>
<text x="553.2" y="3015" text-anchor="middle">2600</text>
<text x="731.4" y="3015" text-anchor="middle">2800</text>
<text x="909.6" y="3015" text-anchor="middle">3000</text>
<text x="1087.8" y="3015" text-anchor="middle">3200</text>
<text x="1266.0" y="3015" text-anchor="middle">3400</text>
<text x="1444.2" y="3015" text-anchor="middle">3600</text>
<text x="1622.4" y="3015" text-anchor="middle">3800</text>
<text x="1800.6" y="3015" text-anchor="middle">4000</text>
<text x="1978.8" y="3015" text-anchor="middle">4200</text>
<text x="2142.5" y="3038.5" text-anchor="end" font-size="36">m/z</text>
<text x="215" y="1931.5" font-size="38.5">x10<tspan dy="-13" font-size="29">4</tspan></text>
<text transform="translate(192,1893) rotate(-90)" text-anchor="end" font-size="36.5">Intens. [a.u.]</text>
</g>
<g stroke="#8a8a8a" stroke-width="1.5" fill="none">
<line x1="695.7" y1="2338.0" x2="695.7" y2="2440.7"/>
<line x1="759.0" y1="2659.3" x2="759.0" y2="2698.5"/>
<line x1="824.0" y1="2060.7" x2="824.0" y2="2220.3"/>
<line x1="887.4" y1="2641.7" x2="887.4" y2="2685.8"/>
<line x1="952.4" y1="2095.9" x2="952.4" y2="2250.1"/>
<line x1="1015.7" y1="2654.9" x2="1015.7" y2="2698.2"/>
<line x1="1079.9" y1="2210.3" x2="1079.9" y2="2343.5"/>
<line x1="1143.2" y1="2674.7" x2="1143.2" y2="2715.8"/>
<line x1="1208.2" y1="2298.4" x2="1208.2" y2="2415.7"/>
<line x1="1271.6" y1="2687.9" x2="1271.6" y2="2728.3"/>
<line x1="1336.6" y1="2408.4" x2="1336.6" y2="2505.6"/>
<line x1="1465.0" y1="2531.7" x2="1465.0" y2="2605.8"/>
<line x1="1593.3" y1="2599.9" x2="1593.3" y2="2661.5"/>
<line x1="1721.7" y1="2707.7" x2="1721.7" y2="2749.0"/>
<line x1="423.5" y1="2772.0" x2="423.5" y2="2779.7"/>
<line x1="438.0" y1="2775.9" x2="438.0" y2="2783.4"/>
<line x1="395.2" y1="2791.3" x2="395.2" y2="2797.0"/>
<line x1="410.4" y1="2793.5" x2="410.4" y2="2799.1"/>
<line x1="451.3" y1="2800.1" x2="451.3" y2="2805.3"/>
<line x1="479.0" y1="2793.5" x2="479.0" y2="2799.5"/>
<line x1="490.5" y1="2786.9" x2="490.5" y2="2793.6"/>
<line x1="503.0" y1="2789.1" x2="503.0" y2="2795.7"/>
<line x1="528.0" y1="2804.5" x2="528.0" y2="2809.7"/>
<line x1="540.4" y1="2800.1" x2="540.4" y2="2805.8"/>
<line x1="552.7" y1="2734.1" x2="552.7" y2="2746.5"/>
<line x1="567.2" y1="2676.9" x2="567.2" y2="2710.2"/>
<line x1="590.3" y1="2795.7" x2="590.3" y2="2802.2"/>
<line x1="603.7" y1="2782.5" x2="603.7" y2="2790.4"/>
<line x1="616.2" y1="2764.9" x2="616.2" y2="2774.6"/>
<line x1="631.3" y1="2740.7" x2="631.3" y2="2752.9"/>
<line x1="643.8" y1="2804.5" x2="643.8" y2="2810.4"/>
<line x1="656.3" y1="2808.9" x2="656.3" y2="2814.5"/>
<line x1="668.7" y1="2800.1" x2="668.7" y2="2806.6"/>
<line x1="681.7" y1="2500.8" x2="681.7" y2="2570.8"/>
<line x1="708.0" y1="2804.5" x2="708.0" y2="2810.8"/>
<line x1="718.6" y1="2786.9" x2="718.6" y2="2795.0"/>
<line x1="732.0" y1="2764.9" x2="732.0" y2="2775.3"/>
<line x1="744.9" y1="2712.1" x2="744.9" y2="2727.8"/>
<line x1="771.2" y1="2808.9" x2="771.2" y2="2815.1"/>
<line x1="783.7" y1="2808.9" x2="783.7" y2="2815.2"/>
<line x1="796.2" y1="2795.7" x2="796.2" y2="2803.4"/>
<line x1="810.0" y1="2404.0" x2="810.0" y2="2494.8"/>
<line x1="836.3" y1="2817.8" x2="836.3" y2="2823.4"/>
<line x1="848.7" y1="2800.1" x2="848.7" y2="2807.7"/>
<line x1="861.2" y1="2769.3" x2="861.2" y2="2780.0"/>
<line x1="873.7" y1="2712.1" x2="873.7" y2="2728.6"/>
<line x1="900.4" y1="2826.6" x2="900.4" y2="2831.7"/>
<line x1="912.9" y1="2826.6" x2="912.9" y2="2831.8"/>
<line x1="925.4" y1="2817.8" x2="925.4" y2="2824.0"/>
<line x1="938.3" y1="2443.6" x2="938.3" y2="2528.1"/>
<line x1="964.6" y1="2826.6" x2="964.6" y2="2832.2"/>
<line x1="977.0" y1="2804.5" x2="977.0" y2="2812.5"/>
<line x1="989.5" y1="2786.9" x2="989.5" y2="2796.7"/>
<line x1="1002.0" y1="2720.9" x2="1002.0" y2="2737.4"/>
<line x1="1028.7" y1="2835.4" x2="1028.7" y2="2840.6"/>
<line x1="1041.2" y1="2835.4" x2="1041.2" y2="2840.6"/>
<line x1="1053.7" y1="2826.6" x2="1053.7" y2="2832.8"/>
<line x1="1066.6" y1="2483.2" x2="1066.6" y2="2561.6"/>
<line x1="1092.9" y1="2835.4" x2="1092.9" y2="2841.0"/>
<line x1="1105.3" y1="2817.8" x2="1105.3" y2="2825.3"/>
<line x1="1117.8" y1="2800.1" x2="1117.8" y2="2809.5"/>
<line x1="1130.3" y1="2729.7" x2="1130.3" y2="2746.2"/>
<line x1="1157.0" y1="2844.2" x2="1157.0" y2="2849.4"/>
<line x1="1169.5" y1="2844.2" x2="1169.5" y2="2849.5"/>
<line x1="1182.0" y1="2831.0" x2="1182.0" y2="2837.7"/>
<line x1="1194.9" y1="2575.7" x2="1194.9" y2="2637.4"/>
<line x1="1221.2" y1="2844.2" x2="1221.2" y2="2849.9"/>
<line x1="1233.6" y1="2826.6" x2="1233.6" y2="2834.1"/>
<line x1="1246.1" y1="2804.5" x2="1246.1" y2="2814.4"/>
<line x1="1258.6" y1="2747.3" x2="1258.6" y2="2763.0"/>
<line x1="1285.3" y1="2853.0" x2="1285.3" y2="2858.2"/>
<line x1="1297.8" y1="2853.0" x2="1297.8" y2="2858.3"/>
<line x1="1310.3" y1="2839.8" x2="1310.3" y2="2846.5"/>
<line x1="1323.2" y1="2621.9" x2="1323.2" y2="2676.2"/>
<line x1="1349.5" y1="2857.4" x2="1349.5" y2="2862.7"/>
<line x1="1361.9" y1="2844.2" x2="1361.9" y2="2850.9"/>
<line x1="1374.4" y1="2826.6" x2="1374.4" y2="2835.1"/>
<line x1="1386.9" y1="2778.1" x2="1386.9" y2="2791.6"/>
<line x1="1401.6" y1="2734.1" x2="1401.6" y2="2752.1"/>
<line x1="1426.1" y1="2866.2" x2="1426.1" y2="2871.1"/>
<line x1="1438.6" y1="2861.8" x2="1438.6" y2="2867.2"/>
<line x1="1451.5" y1="2654.9" x2="1451.5" y2="2704.2"/>
<line x1="1477.8" y1="2866.2" x2="1477.8" y2="2871.3"/>
<line x1="1490.2" y1="2853.0" x2="1490.2" y2="2859.5"/>
<line x1="1502.7" y1="2844.2" x2="1502.7" y2="2851.6"/>
<line x1="1516.1" y1="2815.5" x2="1516.1" y2="2826.0"/>
<line x1="1529.5" y1="2771.5" x2="1529.5" y2="2786.4"/>
<line x1="1554.4" y1="2875.0" x2="1554.4" y2="2879.6"/>
<line x1="1566.9" y1="2870.6" x2="1566.9" y2="2875.7"/>
<line x1="1579.8" y1="2753.9" x2="1579.8" y2="2770.8"/>
<line x1="1606.1" y1="2875.0" x2="1606.1" y2="2879.9"/>
<line x1="1618.6" y1="2870.6" x2="1618.6" y2="2875.9"/>
<line x1="1631.0" y1="2861.8" x2="1631.0" y2="2868.1"/>
<line x1="1643.5" y1="2846.4" x2="1643.5" y2="2854.3"/>
<line x1="1658.2" y1="2804.5" x2="1658.2" y2="2816.7"/>
<line x1="1682.7" y1="2879.4" x2="1682.7" y2="2884.2"/>
<line x1="1695.2" y1="2879.4" x2="1695.2" y2="2884.2"/>
<line x1="1708.1" y1="2808.9" x2="1708.1" y2="2820.9"/>
<line x1="1734.4" y1="2888.2" x2="1734.4" y2="2892.4"/>
<line x1="1746.9" y1="2883.8" x2="1746.9" y2="2888.5"/>
<line x1="1759.3" y1="2879.4" x2="1759.3" y2="2884.6"/>
<line x1="1772.7" y1="2866.2" x2="1772.7" y2="2872.8"/>
<line x1="1786.1" y1="2844.2" x2="1786.1" y2="2853.0"/>
<line x1="1811.0" y1="2892.6" x2="1811.0" y2="2896.8"/>
<line x1="1823.5" y1="2892.6" x2="1823.5" y2="2896.9"/>
<line x1="1836.4" y1="2853.0" x2="1836.4" y2="2861.3"/>
<line x1="1851.1" y1="2804.5" x2="1851.1" y2="2817.8"/>
<line x1="1876.9" y1="2897.0" x2="1876.9" y2="2901.2"/>
<line x1="1889.4" y1="2897.0" x2="1889.4" y2="2901.3"/>
<line x1="1901.9" y1="2888.2" x2="1901.9" y2="2893.5"/>
<line x1="1914.4" y1="2888.2" x2="1914.4" y2="2893.6"/>
<line x1="1940.2" y1="2901.4" x2="1940.2" y2="2905.7"/>
<line x1="1953.6" y1="2901.4" x2="1953.6" y2="2905.8"/>
<line x1="1966.0" y1="2888.2" x2="1966.0" y2="2894.0"/>
<line x1="1979.4" y1="2864.4" x2="1979.4" y2="2872.6"/>
<line x1="2005.2" y1="2905.8" x2="2005.2" y2="2909.9"/>
<line x1="2017.7" y1="2905.8" x2="2017.7" y2="2910.0"/>
<line x1="2044.5" y1="2903.6" x2="2044.5" y2="2908.1"/>
<line x1="2056.9" y1="2905.8" x2="2056.9" y2="2910.1"/>
<line x1="2096.1" y1="2910.2" x2="2096.1" y2="2914.2"/>
<line x1="2113.9" y1="2908.0" x2="2113.9" y2="2912.3"/>
</g>
<polygon fill="#050505" stroke="#050505" stroke-width="0.8" stroke-linejoin="round" points="315.5,2804.3 316.3,2807.9 317.1,2808.5 317.9,2803.1 318.7,2807.5 319.5,2806.7 320.3,2809.2 321.1,2810.2 321.9,2807.1 322.7,2809.7 323.5,2800.8 324.3,2795.1 325.1,2798.7 325.9,2807.9 326.7,2809.3 327.5,2810.2 328.3,2808.8 329.1,2804.1 329.9,2806.8 330.7,2807.4 331.5,2811.6 332.3,2801.1 333.1,2800.1 333.9,2796.2 334.7,2806.1 335.5,2810.5 336.3,2807.6 337.1,2809.8 337.9,2804.7 338.7,2806.7 339.5,2797.7 340.3,2789.0 341.1,2798.0 341.9,2808.8 342.7,2809.6 343.5,2804.4 344.3,2793.9 345.1,2795.5 345.9,2801.8 346.7,2807.3 347.5,2808.1 348.3,2809.2 349.1,2806.0 349.9,2806.4 350.7,2806.5 351.5,2795.3 352.3,2794.5 353.1,2805.2 353.9,2812.3 354.7,2812.7 355.5,2803.2 356.3,2800.3 357.1,2803.8 357.9,2800.7 358.7,2808.2 359.5,2797.7 360.3,2789.0 361.1,2804.8 361.9,2805.7 362.7,2806.6 363.5,2806.2 364.3,2807.5 365.1,2807.7 365.9,2809.4 366.7,2805.7 367.5,2806.1 368.3,2808.5 369.1,2811.3 369.9,2811.1 370.7,2804.7 371.5,2811.8 372.3,2811.5 373.1,2809.0 373.9,2807.2 374.7,2799.4 375.5,2804.3 376.3,2796.0 377.1,2791.5 377.9,2795.2 378.7,2804.3 379.5,2808.2 380.3,2809.2 381.1,2809.9 381.9,2809.0 382.7,2807.7 383.5,2804.6 384.3,2797.5 385.1,2798.9 385.9,2801.6 386.7,2809.4 387.5,2807.1 388.3,2806.8 389.1,2798.6 389.9,2803.6 390.7,2804.7 391.5,2805.2 392.3,2803.7 393.1,2803.8 393.9,2797.7 394.7,2784.1 395.5,2781.1 396.3,2789.8 397.1,2802.9 397.9,2807.7 398.7,2805.0 399.5,2804.2 400.3,2794.1 401.1,2802.1 401.9,2804.8 402.7,2804.8 403.5,2801.7 404.3,2800.5 405.1,2805.7 405.9,2810.9 406.7,2811.3 407.5,2810.0 408.3,2808.4 409.1,2793.2 409.9,2773.1 410.7,2774.9 411.5,2798.0 412.3,2810.1 413.1,2811.4 413.9,2813.0 414.7,2813.9 415.5,2809.6 416.3,2800.0 417.1,2798.7 417.9,2805.2 418.7,2809.4 419.5,2813.4 420.3,2811.6 421.1,2807.8 421.9,2794.3 422.7,2767.2 423.5,2757.3 424.3,2776.1 425.1,2800.1 425.9,2808.7 426.7,2811.7 427.5,2810.3 428.3,2807.8 429.1,2798.4 429.9,2802.3 430.7,2811.2 431.5,2815.5 432.3,2808.2 433.1,2814.9 433.9,2813.7 434.7,2811.5 435.5,2809.4 436.3,2792.1 437.1,2784.3 437.9,2762.8 438.7,2763.4 439.5,2777.1 440.3,2799.9 441.1,2805.4 441.9,2807.0 442.7,2813.4 443.5,2808.1 444.3,2810.7 445.1,2806.1 445.9,2808.7 446.7,2805.9 447.5,2795.2 448.3,2801.9 449.1,2807.8 449.9,2805.8 450.7,2797.5 451.5,2794.5 452.3,2799.3 453.1,2805.5 453.9,2811.4 454.7,2813.1 455.5,2814.5 456.3,2812.6 457.1,2811.3 457.9,2811.5 458.7,2814.4 459.5,2814.6 460.3,2815.4 461.1,2810.9 461.9,2814.7 462.7,2816.5 463.5,2815.3 464.3,2810.5 465.1,2810.6 465.9,2797.8 466.7,2802.3 467.5,2807.5 468.3,2814.1 469.1,2814.7 469.9,2812.5 470.7,2815.4 471.5,2817.8 472.3,2817.9 473.1,2809.6 473.9,2808.8 474.7,2802.2 475.5,2807.6 476.3,2811.1 477.1,2808.5 477.9,2800.1 478.7,2784.2 479.5,2793.1 480.3,2798.9 481.1,2813.9 481.9,2814.0 482.7,2809.3 483.5,2797.9 484.3,2793.3 485.1,2802.0 485.9,2809.4 486.7,2809.5 487.5,2800.0 488.3,2804.4 489.1,2799.4 489.9,2781.5 490.7,2775.7 491.5,2793.0 492.3,2803.0 493.1,2810.4 493.9,2813.5 494.7,2811.7 495.5,2811.9 496.3,2804.0 497.1,2809.4 497.9,2818.7 498.7,2820.2 499.5,2817.7 500.3,2817.3 501.1,2809.2 501.9,2802.2 502.7,2790.0 503.5,2785.8 504.3,2800.3 505.1,2804.2 505.9,2804.0 506.7,2808.5 507.5,2812.1 508.3,2808.9 509.1,2808.9 509.9,2801.5 510.7,2807.8 511.5,2813.4 512.3,2818.6 513.1,2818.0 513.9,2813.3 514.7,2818.5 515.5,2812.5 516.3,2821.4 517.1,2815.9 517.9,2811.9 518.7,2813.0 519.5,2819.9 520.3,2821.4 521.1,2805.3 521.9,2806.5 522.7,2810.4 523.5,2816.3 524.3,2817.1 525.1,2818.6 525.9,2815.8 526.7,2808.5 527.5,2800.7 528.3,2799.7 529.1,2808.6 529.9,2809.4 530.7,2801.7 531.5,2800.9 532.3,2811.8 533.1,2817.8 533.9,2816.9 534.7,2811.6 535.5,2807.4 536.3,2813.4 537.1,2817.8 537.9,2813.1 538.7,2806.3 539.5,2801.3 540.3,2796.7 541.1,2800.1 541.9,2814.6 542.7,2816.7 543.5,2819.9 544.3,2819.4 545.1,2815.9 545.9,2818.3 546.7,2812.1 547.5,2808.0 548.3,2810.4 549.1,2814.5 549.9,2817.1 550.7,2808.4 551.5,2780.6 552.3,2742.7 553.1,2743.1 553.9,2770.3 554.7,2793.7 555.5,2803.9 556.3,2813.3 557.1,2813.7 557.9,2814.3 558.7,2810.2 559.5,2800.9 560.3,2811.0 561.1,2816.6 561.9,2812.9 562.7,2808.3 563.5,2802.0 564.3,2790.4 565.1,2777.5 565.9,2745.2 566.7,2705.2 567.5,2691.5 568.3,2724.7 569.1,2774.1 569.9,2801.4 570.7,2813.1 571.5,2808.3 572.3,2805.0 573.1,2811.0 573.9,2812.0 574.7,2819.0 575.5,2817.3 576.3,2814.2 577.1,2814.5 577.9,2819.6 578.7,2817.5 579.5,2819.4 580.3,2813.6 581.1,2807.6 581.9,2800.9 582.7,2808.1 583.5,2818.3 584.3,2820.9 585.1,2820.4 585.9,2813.8 586.7,2804.2 587.5,2799.6 588.3,2801.0 589.1,2801.6 589.9,2792.1 590.7,2782.8 591.5,2792.3 592.3,2801.0 593.1,2809.9 593.9,2819.1 594.7,2822.2 595.5,2823.1 596.3,2825.2 597.1,2821.2 597.9,2818.6 598.7,2821.1 599.5,2819.1 600.3,2809.5 601.1,2807.4 601.9,2806.3 602.7,2793.2 603.5,2775.5 604.3,2771.2 605.1,2788.7 605.9,2806.7 606.7,2820.7 607.5,2822.4 608.3,2819.0 609.1,2816.8 609.9,2815.2 610.7,2818.4 611.5,2819.6 612.3,2817.1 613.1,2818.7 613.9,2812.9 614.7,2802.6 615.5,2773.9 616.3,2764.4 617.1,2777.2 617.9,2798.8 618.7,2810.7 619.5,2823.3 620.3,2821.8 621.1,2823.2 621.9,2825.0 622.7,2821.7 623.5,2824.0 624.3,2825.7 625.1,2822.1 625.9,2823.6 626.7,2811.1 627.5,2814.7 628.3,2819.9 629.1,2812.9 629.9,2793.1 630.7,2755.7 631.5,2735.7 632.3,2758.3 633.1,2796.3 633.9,2818.8 634.7,2822.1 635.5,2827.7 636.3,2827.9 637.1,2819.7 637.9,2816.4 638.7,2823.0 639.5,2825.0 640.3,2826.2 641.1,2823.6 641.9,2822.5 642.7,2805.6 643.5,2799.3 644.3,2802.9 645.1,2810.6 645.9,2819.0 646.7,2811.3 647.5,2816.1 648.3,2820.1 649.1,2824.3 649.9,2829.0 650.7,2824.3 651.5,2825.4 652.3,2822.8 653.1,2819.6 653.9,2804.9 654.7,2806.9 655.5,2806.1 656.3,2802.7 657.1,2809.3 657.9,2811.6 658.7,2816.2 659.5,2822.9 660.3,2824.2 661.1,2821.8 661.9,2822.1 662.7,2822.6 663.5,2823.6 664.3,2822.2 665.1,2823.1 665.9,2822.3 666.7,2815.9 667.5,2793.6 668.3,2789.1 669.1,2791.9 669.9,2810.2 670.7,2822.0 671.5,2819.2 672.3,2819.4 673.1,2818.9 673.9,2823.1 674.7,2821.6 675.5,2822.0 676.3,2819.9 677.1,2817.6 677.9,2813.0 678.7,2801.6 679.5,2749.9 680.3,2653.9 681.1,2570.9 681.9,2556.3 682.7,2634.4 683.5,2721.7 684.3,2773.9 685.1,2792.9 685.9,2807.2 686.7,2817.9 687.5,2823.5 688.3,2827.9 689.1,2825.3 689.9,2822.5 690.7,2818.0 691.5,2815.7 692.3,2801.9 693.1,2762.8 693.9,2667.6 694.7,2526.8 695.5,2435.5 696.3,2463.8 697.1,2594.6 697.9,2723.1 698.7,2785.6 699.5,2803.4 700.3,2814.2 701.1,2821.4 701.9,2820.8 702.7,2820.7 703.5,2813.0 704.3,2813.4 705.1,2826.0 705.9,2821.6 706.7,2812.2 707.5,2798.1 708.3,2787.2 709.1,2800.1 709.9,2818.4 710.7,2821.3 711.5,2828.3 712.3,2820.8 713.1,2813.6 713.9,2813.7 714.7,2820.8 715.5,2828.9 716.3,2823.9 717.1,2818.1 717.9,2799.7 718.7,2788.2 719.5,2801.3 720.3,2814.5 721.1,2822.5 721.9,2828.3 722.7,2832.0 723.5,2832.6 724.3,2825.4 725.1,2816.4 725.9,2822.2 726.7,2831.1 727.5,2827.3 728.3,2823.4 729.1,2818.9 729.9,2817.2 730.7,2800.5 731.5,2773.4 732.3,2767.8 733.1,2794.4 733.9,2819.7 734.7,2827.5 735.5,2817.2 736.3,2818.3 737.1,2823.8 737.9,2830.3 738.7,2830.8 739.5,2828.8 740.3,2829.9 741.1,2827.2 741.9,2824.8 742.7,2809.1 743.5,2781.2 744.3,2734.3 745.1,2720.4 745.9,2759.0 746.7,2805.3 747.5,2824.5 748.3,2829.2 749.1,2830.0 749.9,2832.5 750.7,2830.0 751.5,2826.3 752.3,2823.5 753.1,2828.2 753.9,2827.7 754.7,2829.3 755.5,2820.8 756.3,2807.3 757.1,2785.1 757.9,2734.7 758.7,2693.1 759.5,2695.0 760.3,2744.9 761.1,2788.9 761.9,2814.4 762.7,2825.0 763.5,2828.2 764.3,2830.6 765.1,2826.6 765.9,2823.5 766.7,2822.6 767.5,2828.1 768.3,2827.2 769.1,2828.6 769.9,2823.6 770.7,2807.7 771.5,2804.8 772.3,2814.8 773.1,2821.2 773.9,2826.2 774.7,2832.2 775.5,2833.4 776.3,2828.1 777.1,2831.8 777.9,2829.3 778.7,2817.2 779.5,2816.8 780.3,2824.9 781.1,2826.3 781.9,2825.1 782.7,2816.2 783.5,2805.7 784.3,2808.4 785.1,2821.8 785.9,2832.4 786.7,2829.7 787.5,2824.8 788.3,2821.2 789.1,2822.8 789.9,2832.2 790.7,2834.0 791.5,2831.1 792.3,2834.1 793.1,2828.3 793.9,2828.0 794.7,2814.6 795.5,2788.2 796.3,2779.7 797.1,2797.5 797.9,2823.3 798.7,2831.8 799.5,2833.5 800.3,2831.8 801.1,2830.0 801.9,2834.3 802.7,2831.3 803.5,2823.0 804.3,2813.5 805.1,2817.6 805.9,2823.6 806.7,2811.8 807.5,2774.1 808.3,2678.2 809.1,2556.1 809.9,2485.3 810.7,2530.3 811.5,2641.5 812.3,2738.0 813.1,2798.3 813.9,2819.6 814.7,2817.3 815.5,2813.6 816.3,2818.5 817.1,2823.6 817.9,2812.5 818.7,2818.8 819.5,2814.4 820.3,2803.9 821.1,2760.3 821.9,2645.3 822.7,2457.9 823.5,2258.7 824.3,2216.8 825.1,2377.3 825.9,2594.2 826.7,2721.9 827.5,2778.4 828.3,2802.5 829.1,2816.4 829.9,2810.0 830.7,2820.3 831.5,2820.1 832.3,2826.7 833.1,2817.5 833.9,2830.0 834.7,2824.5 835.5,2812.9 836.3,2810.7 837.1,2815.2 837.9,2820.8 838.7,2820.6 839.5,2818.9 840.3,2827.6 841.1,2838.0 841.9,2840.5 842.7,2835.9 843.5,2838.1 844.3,2836.8 845.1,2836.6 845.9,2832.3 846.7,2820.2 847.5,2809.4 848.3,2798.6 849.1,2802.4 849.9,2819.6 850.7,2833.5 851.5,2839.1 852.3,2839.5 853.1,2838.1 853.9,2834.7 854.7,2823.0 855.5,2820.4 856.3,2827.2 857.1,2836.8 857.9,2837.3 858.7,2833.9 859.5,2819.3 860.3,2783.0 861.1,2758.7 861.9,2778.4 862.7,2814.1 863.5,2830.5 864.3,2835.0 865.1,2839.2 865.9,2839.1 866.7,2837.8 867.5,2841.3 868.3,2836.1 869.1,2825.6 869.9,2816.3 870.7,2823.6 871.5,2822.4 872.3,2790.2 873.1,2736.4 873.9,2719.9 874.7,2762.4 875.5,2800.0 876.3,2816.5 877.1,2829.4 877.9,2835.6 878.7,2839.7 879.5,2837.6 880.3,2840.5 881.1,2838.0 881.9,2838.8 882.7,2839.8 883.5,2833.6 884.3,2816.5 885.1,2796.2 885.9,2755.0 886.7,2702.2 887.5,2676.4 888.3,2713.1 889.1,2769.9 889.9,2815.3 890.7,2828.3 891.5,2828.1 892.3,2832.2 893.1,2838.7 893.9,2841.2 894.7,2842.4 895.5,2838.8 896.3,2841.8 897.1,2837.4 897.9,2829.5 898.7,2824.4 899.5,2820.5 900.3,2820.1 901.1,2826.8 901.9,2826.7 902.7,2827.6 903.5,2832.2 904.3,2841.5 905.1,2842.6 905.9,2843.8 906.7,2845.6 907.5,2845.5 908.3,2844.7 909.1,2841.2 909.9,2840.9 910.7,2836.3 911.5,2820.0 912.3,2805.8 913.1,2810.5 913.9,2828.1 914.7,2837.6 915.5,2841.5 916.3,2832.8 917.1,2841.6 917.9,2843.8 918.7,2840.2 919.5,2832.2 920.3,2830.9 921.1,2835.5 921.9,2838.4 922.7,2838.6 923.5,2837.2 924.3,2823.5 925.1,2815.1 925.9,2814.8 926.7,2825.5 927.5,2828.9 928.3,2826.4 929.1,2836.2 929.9,2839.9 930.7,2840.2 931.5,2845.0 932.3,2840.0 933.1,2829.8 933.9,2820.7 934.7,2814.0 935.5,2799.9 936.3,2738.6 937.1,2622.1 937.9,2519.3 938.7,2525.8 939.5,2632.4 940.3,2745.0 941.1,2800.2 941.9,2819.4 942.7,2832.0 943.5,2841.5 944.3,2843.1 945.1,2843.7 945.9,2841.7 946.7,2839.2 947.5,2833.2 948.3,2822.6 949.1,2799.4 949.9,2746.2 950.7,2598.6 951.5,2385.4 952.3,2249.6 953.1,2319.2 953.9,2522.9 954.7,2703.0 955.5,2784.4 956.3,2817.0 957.1,2834.0 957.9,2843.1 958.7,2844.8 959.5,2848.3 960.3,2849.3 961.1,2849.1 961.9,2843.6 962.7,2824.5 963.5,2819.3 964.3,2819.0 965.1,2825.1 965.9,2837.1 966.7,2841.6 967.5,2841.0 968.3,2839.4 969.1,2842.3 969.9,2843.3 970.7,2842.5 971.5,2844.9 972.3,2839.7 973.1,2830.9 973.9,2833.0 974.7,2835.6 975.5,2830.6 976.3,2810.6 977.1,2795.7 977.9,2805.7 978.7,2821.7 979.5,2834.8 980.3,2844.7 981.1,2843.1 981.9,2841.1 982.7,2837.8 983.5,2842.2 984.3,2843.0 985.1,2844.9 985.9,2838.8 986.7,2829.1 987.5,2825.4 988.3,2811.0 989.1,2791.1 989.9,2788.8 990.7,2811.9 991.5,2833.8 992.3,2831.8 993.1,2828.8 993.9,2835.7 994.7,2846.3 995.5,2845.0 996.3,2845.1 997.1,2842.2 997.9,2839.4 998.7,2832.4 999.5,2824.6 1000.3,2814.3 1001.1,2763.4 1001.9,2727.6 1002.7,2749.1 1003.5,2794.7 1004.3,2831.9 1005.1,2841.0 1005.9,2842.1 1006.7,2845.2 1007.5,2843.9 1008.3,2848.6 1009.1,2847.6 1009.9,2847.6 1010.7,2841.8 1011.5,2824.3 1012.3,2821.0 1013.1,2819.2 1013.9,2784.8 1014.7,2727.7 1015.5,2689.7 1016.3,2705.6 1017.1,2760.2 1017.9,2807.0 1018.7,2833.6 1019.5,2839.0 1020.3,2839.2 1021.1,2843.0 1021.9,2850.7 1022.7,2850.6 1023.5,2854.3 1024.3,2855.2 1025.1,2854.1 1025.9,2850.2 1026.7,2843.9 1027.5,2833.2 1028.3,2829.0 1029.1,2832.5 1029.9,2841.5 1030.7,2844.3 1031.5,2838.4 1032.3,2844.8 1033.1,2849.1 1033.9,2849.8 1034.7,2854.5 1035.5,2855.0 1036.3,2851.9 1037.1,2849.1 1037.9,2853.1 1038.7,2846.9 1039.5,2838.0 1040.3,2820.8 1041.1,2821.6 1041.9,2836.9 1042.7,2847.0 1043.5,2854.5 1044.3,2854.9 1045.1,2854.6 1045.9,2854.4 1046.7,2844.2 1047.5,2841.0 1048.3,2833.4 1049.1,2842.0 1049.9,2848.4 1050.7,2848.9 1051.5,2844.6 1052.3,2832.7 1053.1,2816.9 1053.9,2816.4 1054.7,2831.3 1055.5,2846.8 1056.3,2847.0 1057.1,2850.2 1057.9,2848.1 1058.7,2844.1 1059.5,2845.2 1060.3,2846.9 1061.1,2851.4 1061.9,2846.9 1062.7,2840.8 1063.5,2819.2 1064.3,2769.1 1065.1,2686.9 1065.9,2587.3 1066.7,2551.5 1067.5,2617.9 1068.3,2722.2 1069.1,2799.2 1069.9,2829.8 1070.7,2835.7 1071.5,2834.2 1072.3,2843.6 1073.1,2848.0 1073.9,2847.6 1074.7,2843.4 1075.5,2836.4 1076.3,2814.9 1077.1,2776.0 1077.9,2689.8 1078.7,2524.9 1079.5,2364.6 1080.3,2355.1 1081.1,2502.0 1081.9,2682.1 1082.7,2784.2 1083.5,2822.6 1084.3,2836.6 1085.1,2840.6 1085.9,2839.6 1086.7,2840.4 1087.5,2849.5 1088.3,2848.7 1089.1,2848.9 1089.9,2848.3 1090.7,2848.0 1091.5,2845.4 1092.3,2833.7 1093.1,2834.8 1093.9,2839.6 1094.7,2847.9 1095.5,2851.5 1096.3,2853.1 1097.1,2853.7 1097.9,2851.3 1098.7,2847.6 1099.5,2849.9 1100.3,2847.1 1101.1,2853.1 1101.9,2853.6 1102.7,2849.0 1103.5,2842.4 1104.3,2825.7 1105.1,2810.9 1105.9,2806.9 1106.7,2820.9 1107.5,2837.2 1108.3,2850.1 1109.1,2849.6 1109.9,2851.6 1110.7,2850.7 1111.5,2841.9 1112.3,2840.3 1113.1,2847.6 1113.9,2854.9 1114.7,2849.2 1115.5,2845.6 1116.3,2833.4 1117.1,2810.0 1117.9,2801.5 1118.7,2820.9 1119.5,2842.5 1120.3,2852.2 1121.1,2850.9 1121.9,2852.4 1122.7,2852.5 1123.5,2853.4 1124.3,2854.0 1125.1,2853.4 1125.9,2856.4 1126.7,2853.3 1127.5,2850.9 1128.3,2836.9 1129.1,2793.0 1129.9,2741.5 1130.7,2741.4 1131.5,2793.9 1132.3,2834.7 1133.1,2848.8 1133.9,2851.0 1134.7,2847.8 1135.5,2851.4 1136.3,2854.1 1137.1,2854.6 1137.9,2851.4 1138.7,2852.3 1139.5,2846.7 1140.3,2836.7 1141.1,2809.8 1141.9,2752.0 1142.7,2706.6 1143.5,2708.0 1144.3,2749.2 1145.1,2802.9 1145.9,2836.1 1146.7,2847.7 1147.5,2857.2 1148.3,2850.7 1149.1,2846.9 1149.9,2851.2 1150.7,2857.4 1151.5,2861.9 1152.3,2865.2 1153.1,2860.8 1153.9,2861.8 1154.7,2858.7 1155.5,2855.4 1156.3,2841.9 1157.1,2829.3 1157.9,2832.5 1158.7,2849.2 1159.5,2858.3 1160.3,2861.7 1161.1,2856.8 1161.9,2850.1 1162.7,2855.5 1163.5,2857.4 1164.3,2859.3 1165.1,2852.2 1165.9,2855.7 1166.7,2850.3 1167.5,2855.0 1168.3,2850.0 1169.1,2842.8 1169.9,2839.6 1170.7,2844.6 1171.5,2848.3 1172.3,2852.1 1173.1,2855.5 1173.9,2860.0 1174.7,2849.6 1175.5,2849.3 1176.3,2854.5 1177.1,2858.2 1177.9,2861.3 1178.7,2855.7 1179.5,2860.5 1180.3,2840.3 1181.1,2838.4 1181.9,2825.8 1182.7,2830.2 1183.5,2845.6 1184.3,2853.9 1185.1,2860.6 1185.9,2856.9 1186.7,2856.1 1187.5,2851.2 1188.3,2851.7 1189.1,2856.9 1189.9,2860.2 1190.7,2857.3 1191.5,2849.1 1192.3,2823.7 1193.1,2767.1 1193.9,2685.4 1194.7,2623.3 1195.5,2641.1 1196.3,2723.7 1197.1,2802.4 1197.9,2838.2 1198.7,2855.0 1199.5,2853.9 1200.3,2860.2 1201.1,2859.8 1201.9,2852.9 1202.7,2845.3 1203.5,2844.0 1204.3,2844.7 1205.1,2824.6 1205.9,2765.3 1206.7,2635.1 1207.5,2477.0 1208.3,2397.3 1209.1,2479.9 1209.9,2650.5 1210.7,2777.5 1211.5,2831.3 1212.3,2849.4 1213.1,2853.6 1213.9,2859.8 1214.7,2863.3 1215.5,2863.6 1216.3,2864.5 1217.1,2861.5 1217.9,2859.1 1218.7,2860.9 1219.5,2859.7 1220.3,2848.8 1221.1,2841.5 1221.9,2846.1 1222.7,2856.1 1223.5,2863.2 1224.3,2866.5 1225.1,2864.9 1225.9,2859.4 1226.7,2847.8 1227.5,2854.9 1228.3,2861.5 1229.1,2863.8 1229.9,2860.3 1230.7,2858.2 1231.5,2852.5 1232.3,2846.0 1233.1,2830.5 1233.9,2828.6 1234.7,2841.5 1235.5,2855.2 1236.3,2863.1 1237.1,2861.4 1237.9,2851.8 1238.7,2851.4 1239.5,2862.0 1240.3,2866.5 1241.1,2867.1 1241.9,2868.9 1242.7,2865.1 1243.5,2854.9 1244.3,2844.0 1245.1,2824.9 1245.9,2807.5 1246.7,2818.5 1247.5,2843.4 1248.3,2863.4 1249.1,2869.9 1249.9,2871.3 1250.7,2874.2 1251.5,2868.2 1252.3,2862.8 1253.1,2860.4 1253.9,2863.1 1254.7,2867.3 1255.5,2865.7 1256.3,2859.4 1257.1,2830.3 1257.9,2781.8 1258.7,2763.4 1259.5,2796.8 1260.3,2842.3 1261.1,2858.1 1261.9,2856.9 1262.7,2859.8 1263.5,2866.5 1264.3,2867.2 1265.1,2869.6 1265.9,2870.6 1266.7,2869.6 1267.5,2867.9 1268.3,2859.8 1269.1,2840.1 1269.9,2800.5 1270.7,2750.9 1271.5,2720.9 1272.3,2740.7 1273.1,2792.5 1273.9,2836.1 1274.7,2858.7 1275.5,2865.9 1276.3,2859.7 1277.1,2856.1 1277.9,2856.8 1278.7,2866.5 1279.5,2868.1 1280.3,2871.5 1281.1,2870.5 1281.9,2864.9 1282.7,2870.7 1283.5,2858.0 1284.3,2843.9 1285.1,2840.0 1285.9,2847.9 1286.7,2859.7 1287.5,2866.1 1288.3,2861.7 1289.1,2854.6 1289.9,2852.4 1290.7,2866.3 1291.5,2868.4 1292.3,2867.8 1293.1,2867.4 1293.9,2868.4 1294.7,2867.3 1295.5,2862.2 1296.3,2858.7 1297.1,2848.0 1297.9,2837.6 1298.7,2839.6 1299.5,2854.6 1300.3,2863.3 1301.1,2864.6 1301.9,2874.2 1302.7,2872.3 1303.5,2867.9 1304.3,2864.9 1305.1,2856.7 1305.9,2856.2 1306.7,2867.0 1307.5,2867.0 1308.3,2866.6 1309.1,2850.5 1309.9,2834.4 1310.7,2826.1 1311.5,2840.6 1312.3,2859.2 1313.1,2866.4 1313.9,2860.1 1314.7,2865.3 1315.5,2871.1 1316.3,2870.7 1317.1,2869.1 1317.9,2868.0 1318.7,2858.9 1319.5,2854.7 1320.3,2842.3 1321.1,2812.3 1321.9,2744.5 1322.7,2677.2 1323.5,2666.3 1324.3,2728.1 1325.1,2801.9 1325.9,2846.9 1326.7,2862.6 1327.5,2867.1 1328.3,2867.7 1329.1,2867.8 1329.9,2860.8 1330.7,2858.0 1331.5,2861.2 1332.3,2860.9 1333.1,2855.4 1333.9,2822.0 1334.7,2744.1 1335.5,2617.7 1336.3,2506.4 1337.1,2515.5 1337.9,2633.9 1338.7,2758.0 1339.5,2827.6 1340.3,2855.8 1341.1,2863.0 1341.9,2865.9 1342.7,2870.6 1343.5,2871.5 1344.3,2871.1 1345.1,2870.8 1345.9,2870.3 1346.7,2875.5 1347.5,2872.6 1348.3,2865.5 1349.1,2856.6 1349.9,2859.2 1350.7,2868.3 1351.5,2872.9 1352.3,2875.0 1353.1,2872.4 1353.9,2871.3 1354.7,2878.3 1355.5,2878.3 1356.3,2880.4 1357.1,2877.3 1357.9,2872.1 1358.7,2864.6 1359.5,2864.7 1360.3,2861.8 1361.1,2851.8 1361.9,2843.0 1362.7,2846.9 1363.5,2860.1 1364.3,2870.5 1365.1,2876.6 1365.9,2876.6 1366.7,2878.1 1367.5,2877.6 1368.3,2874.1 1369.1,2870.0 1369.9,2862.7 1370.7,2865.1 1371.5,2870.4 1372.3,2869.5 1373.1,2854.2 1373.9,2834.4 1374.7,2829.4 1375.5,2846.7 1376.3,2864.9 1377.1,2870.4 1377.9,2865.0 1378.7,2860.6 1379.5,2869.1 1380.3,2873.8 1381.1,2876.0 1381.9,2872.8 1382.7,2872.2 1383.5,2869.2 1384.3,2868.0 1385.1,2850.3 1385.9,2817.2 1386.7,2780.7 1387.5,2789.6 1388.3,2832.5 1389.1,2862.1 1389.9,2872.3 1390.7,2876.1 1391.5,2875.5 1392.3,2875.7 1393.1,2876.3 1393.9,2876.3 1394.7,2875.9 1395.5,2872.7 1396.3,2868.9 1397.1,2865.4 1397.9,2868.7 1398.7,2867.8 1399.5,2856.3 1400.3,2809.8 1401.1,2748.5 1401.9,2734.3 1402.7,2794.5 1403.5,2844.7 1404.3,2865.7 1405.1,2868.7 1405.9,2868.4 1406.7,2863.0 1407.5,2864.5 1408.3,2871.7 1409.1,2874.8 1409.9,2876.3 1410.7,2876.6 1411.5,2877.1 1412.3,2878.3 1413.1,2875.0 1413.9,2868.0 1414.7,2869.8 1415.5,2873.5 1416.3,2878.6 1417.1,2874.7 1417.9,2874.3 1418.7,2877.4 1419.5,2879.1 1420.3,2875.0 1421.1,2875.2 1421.9,2871.5 1422.7,2862.9 1423.5,2866.5 1424.3,2871.0 1425.1,2866.8 1425.9,2860.4 1426.7,2862.6 1427.5,2862.4 1428.3,2867.4 1429.1,2870.4 1429.9,2874.7 1430.7,2875.4 1431.5,2872.4 1432.3,2871.7 1433.1,2875.4 1433.9,2875.0 1434.7,2876.6 1435.5,2875.0 1436.3,2862.7 1437.1,2856.7 1437.9,2857.3 1438.7,2856.9 1439.5,2866.6 1440.3,2869.9 1441.1,2863.2 1441.9,2863.1 1442.7,2870.6 1443.5,2874.9 1444.3,2877.7 1445.1,2874.1 1445.9,2874.2 1446.7,2872.8 1447.5,2869.2 1448.3,2863.2 1449.1,2833.1 1449.9,2783.7 1450.7,2715.2 1451.5,2687.4 1452.3,2727.2 1453.1,2790.4 1453.9,2842.3 1454.7,2867.8 1455.5,2872.0 1456.3,2875.2 1457.1,2872.7 1457.9,2871.3 1458.7,2874.8 1459.5,2876.3 1460.3,2875.9 1461.1,2869.1 1461.9,2856.5 1462.7,2817.1 1463.5,2731.8 1464.3,2630.9 1465.1,2589.6 1465.9,2649.5 1466.7,2752.3 1467.5,2825.6 1468.3,2857.3 1469.1,2868.0 1469.9,2870.4 1470.7,2875.4 1471.5,2870.8 1472.3,2876.8 1473.1,2877.9 1473.9,2875.4 1474.7,2876.6 1475.5,2878.2 1476.3,2872.8 1477.1,2856.6 1477.9,2860.6 1478.7,2867.7 1479.5,2872.1 1480.3,2870.6 1481.1,2870.1 1481.9,2872.3 1482.7,2882.7 1483.5,2878.1 1484.3,2882.8 1485.1,2881.5 1485.9,2873.7 1486.7,2865.1 1487.5,2868.6 1488.3,2870.0 1489.1,2865.1 1489.9,2849.4 1490.7,2851.0 1491.5,2863.4 1492.3,2874.3 1493.1,2873.5 1493.9,2869.8 1494.7,2875.4 1495.5,2882.2 1496.3,2881.6 1497.1,2877.3 1497.9,2881.2 1498.7,2882.9 1499.5,2880.6 1500.3,2881.9 1501.1,2867.6 1501.9,2853.0 1502.7,2847.0 1503.5,2856.4 1504.3,2876.1 1505.1,2882.9 1505.9,2886.5 1506.7,2881.4 1507.5,2879.0 1508.3,2879.5 1509.1,2882.2 1509.9,2884.6 1510.7,2886.1 1511.5,2881.6 1512.3,2879.8 1513.1,2878.6 1513.9,2876.0 1514.7,2858.2 1515.5,2826.1 1516.3,2809.6 1517.1,2825.1 1517.9,2857.1 1518.7,2870.6 1519.5,2880.1 1520.3,2880.7 1521.1,2882.4 1521.9,2875.4 1522.7,2878.2 1523.5,2878.0 1524.3,2881.4 1525.1,2883.0 1525.9,2878.1 1526.7,2872.5 1527.5,2862.6 1528.3,2829.4 1529.1,2787.2 1529.9,2791.4 1530.7,2835.2 1531.5,2870.5 1532.3,2883.0 1533.1,2884.0 1533.9,2882.2 1534.7,2873.9 1535.5,2875.7 1536.3,2885.1 1537.1,2890.6 1537.9,2890.3 1538.7,2891.2 1539.5,2889.6 1540.3,2887.5 1541.1,2882.4 1541.9,2883.5 1542.7,2887.1 1543.5,2888.6 1544.3,2887.2 1545.1,2881.8 1545.9,2878.1 1546.7,2879.0 1547.5,2884.0 1548.3,2885.4 1549.1,2885.0 1549.9,2887.7 1550.7,2888.2 1551.5,2882.0 1552.3,2884.0 1553.1,2885.0 1553.9,2876.7 1554.7,2870.8 1555.5,2876.6 1556.3,2884.8 1557.1,2885.3 1557.9,2887.4 1558.7,2888.3 1559.5,2886.3 1560.3,2887.4 1561.1,2885.2 1561.9,2887.2 1562.7,2885.6 1563.5,2886.4 1564.3,2885.3 1565.1,2878.9 1565.9,2878.6 1566.7,2868.6 1567.5,2869.9 1568.3,2875.1 1569.1,2887.2 1569.9,2889.8 1570.7,2888.2 1571.5,2891.8 1572.3,2888.6 1573.1,2888.9 1573.9,2889.4 1574.7,2884.1 1575.5,2882.3 1576.3,2878.7 1577.1,2879.5 1577.9,2861.5 1578.7,2813.1 1579.5,2765.0 1580.3,2773.2 1581.1,2815.7 1581.9,2858.6 1582.7,2873.6 1583.5,2879.1 1584.3,2878.2 1585.1,2869.9 1585.9,2870.8 1586.7,2876.0 1587.5,2879.6 1588.3,2876.8 1589.1,2870.0 1589.9,2864.5 1590.7,2845.0 1591.5,2797.9 1592.3,2716.0 1593.1,2656.1 1593.9,2668.9 1594.7,2746.7 1595.5,2821.0 1596.3,2864.5 1597.1,2880.6 1597.9,2884.2 1598.7,2885.4 1599.5,2888.1 1600.3,2885.3 1601.1,2878.9 1601.9,2880.8 1602.7,2883.0 1603.5,2884.5 1604.3,2882.6 1605.1,2876.0 1605.9,2868.1 1606.7,2863.7 1607.5,2872.4 1608.3,2883.3 1609.1,2888.3 1609.9,2889.6 1610.7,2889.6 1611.5,2886.6 1612.3,2886.6 1613.1,2884.1 1613.9,2882.4 1614.7,2885.7 1615.5,2890.3 1616.3,2888.5 1617.1,2882.8 1617.9,2868.8 1618.7,2858.8 1619.5,2873.2 1620.3,2886.0 1621.1,2889.1 1621.9,2893.3 1622.7,2893.4 1623.5,2891.9 1624.3,2891.2 1625.1,2888.4 1625.9,2882.8 1626.7,2886.0 1627.5,2891.3 1628.3,2891.5 1629.1,2889.0 1629.9,2875.2 1630.7,2863.9 1631.5,2867.5 1632.3,2880.6 1633.1,2884.6 1633.9,2881.6 1634.7,2881.0 1635.5,2885.8 1636.3,2891.0 1637.1,2887.7 1637.9,2889.5 1638.7,2889.2 1639.5,2890.4 1640.3,2890.5 1641.1,2888.0 1641.9,2878.8 1642.7,2854.1 1643.5,2844.2 1644.3,2859.7 1645.1,2880.8 1645.9,2892.6 1646.7,2893.8 1647.5,2893.2 1648.3,2894.7 1649.1,2893.5 1649.9,2889.3 1650.7,2882.3 1651.5,2882.5 1652.3,2889.2 1653.1,2892.1 1653.9,2893.9 1654.7,2892.3 1655.5,2886.7 1656.3,2877.2 1657.1,2846.5 1657.9,2812.5 1658.7,2816.2 1659.5,2845.5 1660.3,2864.5 1661.1,2883.6 1661.9,2885.8 1662.7,2887.0 1663.5,2890.9 1664.3,2886.7 1665.1,2879.9 1665.9,2882.9 1666.7,2892.1 1667.5,2894.0 1668.3,2890.2 1669.1,2886.9 1669.9,2881.4 1670.7,2885.2 1671.5,2891.7 1672.3,2893.9 1673.1,2894.1 1673.9,2893.3 1674.7,2894.6 1675.5,2892.8 1676.3,2888.8 1677.1,2888.4 1677.9,2890.1 1678.7,2886.9 1679.5,2887.7 1680.3,2890.6 1681.1,2888.7 1681.9,2879.6 1682.7,2874.3 1683.5,2872.1 1684.3,2876.4 1685.1,2888.8 1685.9,2891.2 1686.7,2891.2 1687.5,2888.5 1688.3,2887.4 1689.1,2885.7 1689.9,2890.3 1690.7,2891.5 1691.5,2892.0 1692.3,2892.9 1693.1,2892.1 1693.9,2885.3 1694.7,2880.5 1695.5,2879.1 1696.3,2882.5 1697.1,2880.9 1697.9,2887.9 1698.7,2888.7 1699.5,2893.1 1700.3,2895.2 1701.1,2895.6 1701.9,2894.2 1702.7,2895.3 1703.5,2893.3 1704.3,2889.9 1705.1,2889.7 1705.9,2884.0 1706.7,2860.8 1707.5,2831.0 1708.3,2815.6 1709.1,2844.1 1709.9,2874.8 1710.7,2883.8 1711.5,2879.6 1712.3,2883.2 1713.1,2890.5 1713.9,2891.6 1714.7,2885.2 1715.5,2887.1 1716.3,2890.7 1717.1,2890.5 1717.9,2885.6 1718.7,2878.6 1719.5,2857.0 1720.3,2812.3 1721.1,2757.9 1721.9,2735.9 1722.7,2764.7 1723.5,2823.6 1724.3,2866.9 1725.1,2884.9 1725.9,2889.9 1726.7,2891.2 1727.5,2892.0 1728.3,2893.1 1729.1,2892.5 1729.9,2893.4 1730.7,2893.6 1731.5,2889.4 1732.3,2888.2 1733.1,2886.8 1733.9,2884.8 1734.7,2882.8 1735.5,2887.0 1736.3,2892.5 1737.1,2892.6 1737.9,2888.8 1738.7,2885.5 1739.5,2889.7 1740.3,2895.4 1741.1,2894.4 1741.9,2895.3 1742.7,2895.7 1743.5,2895.0 1744.3,2887.0 1745.1,2882.0 1745.9,2881.9 1746.7,2880.6 1747.5,2886.6 1748.3,2890.0 1749.1,2893.0 1749.9,2893.7 1750.7,2896.5 1751.5,2898.0 1752.3,2896.6 1753.1,2893.4 1753.9,2891.0 1754.7,2892.4 1755.5,2893.7 1756.3,2894.2 1757.1,2892.7 1757.9,2890.6 1758.7,2878.0 1759.5,2877.7 1760.3,2879.4 1761.1,2884.6 1761.9,2886.7 1762.7,2897.5 1763.5,2899.3 1764.3,2899.3 1765.1,2898.1 1765.9,2899.1 1766.7,2893.8 1767.5,2893.3 1768.3,2890.9 1769.1,2893.0 1769.9,2896.3 1770.7,2889.4 1771.5,2874.8 1772.3,2865.4 1773.1,2867.4 1773.9,2881.0 1774.7,2891.8 1775.5,2897.6 1776.3,2894.8 1777.1,2898.7 1777.9,2898.4 1778.7,2900.3 1779.5,2896.0 1780.3,2889.3 1781.1,2887.6 1781.9,2892.6 1782.7,2895.2 1783.5,2896.8 1784.3,2886.9 1785.1,2864.7 1785.9,2846.2 1786.7,2856.4 1787.5,2876.8 1788.3,2891.0 1789.1,2895.5 1789.9,2892.9 1790.7,2894.8 1791.5,2891.0 1792.3,2895.5 1793.1,2886.8 1793.9,2882.7 1794.7,2889.0 1795.5,2894.7 1796.3,2898.6 1797.1,2897.8 1797.9,2895.4 1798.7,2891.5 1799.5,2879.5 1800.3,2886.5 1801.1,2891.9 1801.9,2893.1 1802.7,2894.5 1803.5,2895.7 1804.3,2894.0 1805.1,2890.9 1805.9,2890.2 1806.7,2896.6 1807.5,2894.7 1808.3,2899.6 1809.1,2898.7 1809.9,2894.4 1810.7,2888.3 1811.5,2884.9 1812.3,2887.9 1813.1,2895.3 1813.9,2899.4 1814.7,2901.1 1815.5,2901.8 1816.3,2901.4 1817.1,2901.4 1817.9,2900.0 1818.7,2898.8 1819.5,2897.8 1820.3,2899.2 1821.1,2900.9 1821.9,2898.3 1822.7,2893.6 1823.5,2891.0 1824.3,2894.6 1825.1,2897.2 1825.9,2895.6 1826.7,2889.8 1827.5,2891.7 1828.3,2898.2 1829.1,2902.5 1829.9,2901.6 1830.7,2895.0 1831.5,2891.9 1832.3,2892.3 1833.1,2897.8 1833.9,2896.5 1834.7,2886.1 1835.5,2863.8 1836.3,2856.2 1837.1,2865.2 1837.9,2883.7 1838.7,2888.5 1839.5,2894.3 1840.3,2894.5 1841.1,2897.8 1841.9,2897.3 1842.7,2901.0 1843.5,2897.9 1844.3,2895.8 1845.1,2896.1 1845.9,2901.0 1846.7,2898.3 1847.5,2897.7 1848.3,2897.5 1849.1,2885.2 1849.9,2851.4 1850.7,2809.3 1851.5,2813.3 1852.3,2854.5 1853.1,2885.1 1853.9,2898.6 1854.7,2900.2 1855.5,2903.0 1856.3,2903.9 1857.1,2902.7 1857.9,2904.6 1858.7,2899.7 1859.5,2896.1 1860.3,2900.1 1861.1,2905.8 1861.9,2906.9 1862.7,2908.5 1863.5,2907.3 1864.3,2908.2 1865.1,2907.9 1865.9,2903.1 1866.7,2895.5 1867.5,2893.8 1868.3,2899.9 1869.1,2904.7 1869.9,2904.6 1870.7,2904.3 1871.5,2901.5 1872.3,2903.0 1873.1,2900.8 1873.9,2896.7 1874.7,2895.4 1875.5,2895.4 1876.3,2892.8 1877.1,2891.8 1877.9,2895.2 1878.7,2898.4 1879.5,2901.7 1880.3,2898.3 1881.1,2893.0 1881.9,2894.4 1882.7,2900.0 1883.5,2902.2 1884.3,2899.8 1885.1,2904.4 1885.9,2903.6 1886.7,2901.8 1887.5,2899.6 1888.3,2896.1 1889.1,2888.9 1889.9,2886.0 1890.7,2887.6 1891.5,2891.8 1892.3,2899.4 1893.1,2901.3 1893.9,2902.2 1894.7,2899.4 1895.5,2892.6 1896.3,2893.0 1897.1,2898.5 1897.9,2904.4 1898.7,2905.7 1899.5,2899.4 1900.3,2894.9 1901.1,2887.0 1901.9,2884.2 1902.7,2887.3 1903.5,2893.3 1904.3,2894.1 1905.1,2901.5 1905.9,2903.7 1906.7,2904.9 1907.5,2906.3 1908.3,2904.8 1909.1,2907.6 1909.9,2904.3 1910.7,2903.2 1911.5,2903.3 1912.3,2897.3 1913.1,2892.5 1913.9,2888.1 1914.7,2888.3 1915.5,2896.3 1916.3,2904.8 1917.1,2906.2 1917.9,2906.9 1918.7,2907.7 1919.5,2906.0 1920.3,2901.0 1921.1,2892.4 1921.9,2897.4 1922.7,2904.5 1923.5,2905.5 1924.3,2905.6 1925.1,2908.6 1925.9,2907.0 1926.7,2908.2 1927.5,2905.2 1928.3,2897.8 1929.1,2897.4 1929.9,2901.9 1930.7,2905.7 1931.5,2907.2 1932.3,2909.0 1933.1,2909.5 1933.9,2910.6 1934.7,2909.2 1935.5,2907.5 1936.3,2904.1 1937.1,2902.8 1937.9,2906.4 1938.7,2906.9 1939.5,2900.9 1940.3,2900.4 1941.1,2905.4 1941.9,2910.4 1942.7,2910.4 1943.5,2911.5 1944.3,2910.7 1945.1,2909.0 1945.9,2909.5 1946.7,2909.0 1947.5,2908.9 1948.3,2907.3 1949.1,2907.6 1949.9,2901.2 1950.7,2903.5 1951.5,2904.6 1952.3,2903.3 1953.1,2895.6 1953.9,2893.7 1954.7,2899.7 1955.5,2906.8 1956.3,2910.3 1957.1,2912.3 1957.9,2909.3 1958.7,2911.4 1959.5,2912.3 1960.3,2907.8 1961.1,2902.1 1961.9,2900.7 1962.7,2905.0 1963.5,2905.4 1964.3,2901.8 1965.1,2886.7 1965.9,2876.5 1966.7,2883.5 1967.5,2898.4 1968.3,2911.7 1969.1,2910.9 1969.9,2913.3 1970.7,2915.8 1971.5,2914.8 1972.3,2913.9 1973.1,2910.0 1973.9,2906.9 1974.7,2909.7 1975.5,2911.6 1976.3,2910.1 1977.1,2907.6 1977.9,2898.0 1978.7,2878.1 1979.5,2865.1 1980.3,2876.3 1981.1,2892.4 1981.9,2904.9 1982.7,2908.9 1983.5,2912.5 1984.3,2912.9 1985.1,2914.7 1985.9,2916.4 1986.7,2913.4 1987.5,2909.2 1988.3,2910.3 1989.1,2912.4 1989.9,2914.1 1990.7,2916.8 1991.5,2916.5 1992.3,2915.1 1993.1,2915.3 1993.9,2911.7 1994.7,2913.7 1995.5,2912.3 1996.3,2911.1 1997.1,2907.4 1997.9,2908.6 1998.7,2913.6 1999.5,2912.6 2000.3,2912.5 2001.1,2911.3 2001.9,2913.6 2002.7,2912.9 2003.5,2909.3 2004.3,2902.5 2005.1,2894.2 2005.9,2897.3 2006.7,2907.5 2007.5,2913.4 2008.3,2914.0 2009.1,2914.9 2009.9,2915.6 2010.7,2914.2 2011.5,2914.4 2012.3,2914.6 2013.1,2914.1 2013.9,2912.3 2014.7,2913.0 2015.5,2912.0 2016.3,2910.4 2017.1,2907.6 2017.9,2905.3 2018.7,2909.7 2019.5,2912.7 2020.3,2911.8 2021.1,2907.1 2021.9,2904.5 2022.7,2910.2 2023.5,2914.7 2024.3,2914.3 2025.1,2912.2 2025.9,2909.8 2026.7,2906.3 2027.5,2911.2 2028.3,2915.6 2029.1,2915.9 2029.9,2913.1 2030.7,2912.3 2031.5,2915.8 2032.3,2917.2 2033.1,2916.1 2033.9,2915.4 2034.7,2911.8 2035.5,2911.9 2036.3,2911.2 2037.1,2911.2 2037.9,2909.9 2038.7,2912.2 2039.5,2910.8 2040.3,2907.4 2041.1,2895.7 2041.9,2903.6 2042.7,2907.0 2043.5,2902.1 2044.3,2900.0 2045.1,2902.0 2045.9,2905.1 2046.7,2907.9 2047.5,2907.2 2048.3,2905.6 2049.1,2910.4 2049.9,2914.9 2050.7,2912.4 2051.5,2914.8 2052.3,2913.3 2053.1,2913.5 2053.9,2915.1 2054.7,2913.0 2055.5,2909.1 2056.3,2901.4 2057.1,2892.7 2057.9,2900.1 2058.7,2907.7 2059.5,2911.8 2060.3,2913.5 2061.1,2914.1 2061.9,2912.9 2062.7,2911.6 2063.5,2911.4 2064.3,2912.9 2065.1,2913.7 2065.9,2908.1 2066.7,2903.4 2067.5,2907.1 2068.3,2909.9 2069.1,2910.8 2069.9,2911.4 2070.7,2910.2 2071.5,2911.9 2072.3,2911.7 2073.1,2909.4 2073.9,2909.0 2074.7,2909.2 2075.5,2909.4 2076.3,2908.0 2077.1,2909.5 2077.9,2910.1 2078.7,2912.1 2079.5,2913.8 2080.3,2908.4 2081.1,2909.8 2081.9,2904.6 2082.7,2904.5 2083.5,2911.2 2084.3,2911.2 2085.1,2903.4 2085.9,2900.7 2086.7,2899.0 2087.5,2908.2 2088.3,2909.7 2089.1,2905.7 2089.9,2905.0 2090.7,2903.3 2091.5,2907.8 2092.3,2913.6 2093.1,2910.8 2093.9,2910.3 2094.7,2902.6 2095.5,2899.2 2096.3,2903.6 2097.1,2906.9 2097.9,2909.9 2098.7,2914.9 2099.5,2917.9 2100.3,2915.7 2101.1,2912.9 2101.9,2912.5 2102.7,2910.1 2103.5,2912.4 2104.3,2913.1 2105.1,2912.6 2105.9,2913.8 2106.7,2916.3 2107.5,2912.2 2108.3,2913.5 2109.1,2911.5 2109.9,2910.1 2110.7,2909.1 2111.5,2907.3 2112.3,2909.0 2113.1,2908.3 2113.9,2905.2 2114.7,2909.1 2115.5,2911.7 2116.3,2914.5 2117.1,2909.4 2117.9,2907.3 2118.7,2909.1 2119.5,2916.4 2120.3,2914.9 2121.1,2915.0 2121.9,2912.3 2122.7,2910.0 2123.5,2911.0 2124.3,2908.5 2125.1,2915.8 2125.9,2913.6 2126.7,2914.3 2127.5,2915.0 2128.3,2913.2 2129.1,2914.2 2129.9,2911.2 2130.7,2907.7 2131.5,2906.9 2132.3,2912.0 2133.1,2915.1 2133.9,2913.9 2134.7,2912.4 2135.5,2911.4 2136.3,2905.2 2137.1,2908.6 2137.9,2907.2 2138.7,2915.5 2139.5,2916.7 2140.3,2915.0 2140.3,2923.6 2139.5,2922.3 2138.7,2924.5 2137.9,2925.0 2137.1,2923.6 2136.3,2923.5 2135.5,2922.9 2134.7,2922.8 2133.9,2924.1 2133.1,2924.9 2132.3,2923.1 2131.5,2924.4 2130.7,2925.2 2129.9,2924.7 2129.1,2925.6 2128.3,2924.0 2127.5,2924.9 2126.7,2924.1 2125.9,2921.7 2125.1,2922.8 2124.3,2923.9 2123.5,2922.1 2122.7,2924.6 2121.9,2920.8 2121.1,2924.3 2120.3,2923.9 2119.5,2923.8 2118.7,2922.8 2117.9,2921.3 2117.1,2922.0 2116.3,2923.0 2115.5,2924.4 2114.7,2923.5 2113.9,2923.9 2113.1,2922.8 2112.3,2922.3 2111.5,2922.3 2110.7,2921.9 2109.9,2922.3 2109.1,2922.3 2108.3,2922.7 2107.5,2925.1 2106.7,2921.8 2105.9,2922.2 2105.1,2921.3 2104.3,2925.2 2103.5,2922.5 2102.7,2922.6 2101.9,2923.3 2101.1,2922.9 2100.3,2925.7 2099.5,2926.6 2098.7,2924.0 2097.9,2922.2 2097.1,2923.8 2096.3,2922.2 2095.5,2919.9 2094.7,2921.8 2093.9,2921.3 2093.1,2921.7 2092.3,2922.6 2091.5,2923.5 2090.7,2920.3 2089.9,2920.4 2089.1,2919.6 2088.3,2917.8 2087.5,2920.4 2086.7,2920.8 2085.9,2918.4 2085.1,2919.5 2084.3,2921.5 2083.5,2919.3 2082.7,2920.9 2081.9,2923.3 2081.1,2921.1 2080.3,2924.5 2079.5,2921.3 2078.7,2923.9 2077.9,2920.1 2077.1,2921.9 2076.3,2922.6 2075.5,2919.7 2074.7,2920.0 2073.9,2921.7 2073.1,2919.8 2072.3,2923.4 2071.5,2921.3 2070.7,2918.9 2069.9,2920.0 2069.1,2918.6 2068.3,2918.7 2067.5,2920.2 2066.7,2919.2 2065.9,2920.8 2065.1,2919.1 2064.3,2917.8 2063.5,2916.3 2062.7,2916.3 2061.9,2916.9 2061.1,2917.2 2060.3,2918.2 2059.5,2919.4 2058.7,2919.0 2057.9,2919.5 2057.1,2919.2 2056.3,2920.1 2055.5,2918.2 2054.7,2919.3 2053.9,2919.8 2053.1,2918.7 2052.3,2918.1 2051.5,2920.3 2050.7,2920.8 2049.9,2919.5 2049.1,2919.0 2048.3,2919.3 2047.5,2918.4 2046.7,2919.2 2045.9,2917.5 2045.1,2919.3 2044.3,2918.8 2043.5,2916.0 2042.7,2918.2 2041.9,2918.8 2041.1,2917.6 2040.3,2920.6 2039.5,2922.6 2038.7,2917.1 2037.9,2918.6 2037.1,2918.6 2036.3,2921.5 2035.5,2920.6 2034.7,2921.9 2033.9,2921.6 2033.1,2921.5 2032.3,2923.0 2031.5,2922.6 2030.7,2923.1 2029.9,2920.9 2029.1,2920.7 2028.3,2920.5 2027.5,2920.9 2026.7,2919.0 2025.9,2919.6 2025.1,2919.4 2024.3,2919.4 2023.5,2920.1 2022.7,2919.1 2021.9,2918.6 2021.1,2919.9 2020.3,2919.3 2019.5,2920.2 2018.7,2921.4 2017.9,2920.5 2017.1,2920.1 2016.3,2919.2 2015.5,2919.4 2014.7,2922.2 2013.9,2919.5 2013.1,2920.2 2012.3,2918.1 2011.5,2920.2 2010.7,2919.3 2009.9,2919.8 2009.1,2921.8 2008.3,2919.3 2007.5,2920.7 2006.7,2920.5 2005.9,2920.7 2005.1,2922.3 2004.3,2920.9 2003.5,2919.3 2002.7,2919.7 2001.9,2919.0 2001.1,2918.0 2000.3,2918.8 1999.5,2918.6 1998.7,2919.5 1997.9,2920.2 1997.1,2919.8 1996.3,2921.3 1995.5,2918.9 1994.7,2918.7 1993.9,2920.5 1993.1,2920.1 1992.3,2921.1 1991.5,2920.9 1990.7,2920.8 1989.9,2919.0 1989.1,2919.8 1988.3,2919.2 1987.5,2919.7 1986.7,2919.8 1985.9,2922.0 1985.1,2922.2 1984.3,2921.0 1983.5,2919.7 1982.7,2919.5 1981.9,2920.2 1981.1,2920.1 1980.3,2919.5 1979.5,2918.7 1978.7,2919.5 1977.9,2918.7 1977.1,2917.8 1976.3,2919.0 1975.5,2919.1 1974.7,2918.8 1973.9,2919.0 1973.1,2921.7 1972.3,2921.3 1971.5,2920.2 1970.7,2920.4 1969.9,2923.8 1969.1,2921.6 1968.3,2921.3 1967.5,2918.2 1966.7,2919.1 1965.9,2919.4 1965.1,2920.6 1964.3,2919.8 1963.5,2915.9 1962.7,2915.9 1961.9,2917.4 1961.1,2917.8 1960.3,2919.2 1959.5,2918.2 1958.7,2918.8 1957.9,2916.2 1957.1,2916.0 1956.3,2917.4 1955.5,2915.6 1954.7,2915.6 1953.9,2918.2 1953.1,2919.2 1952.3,2916.4 1951.5,2916.6 1950.7,2917.7 1949.9,2916.8 1949.1,2916.4 1948.3,2918.0 1947.5,2917.3 1946.7,2918.1 1945.9,2917.9 1945.1,2919.5 1944.3,2917.3 1943.5,2918.2 1942.7,2919.4 1941.9,2918.7 1941.1,2921.0 1940.3,2918.9 1939.5,2918.6 1938.7,2916.3 1937.9,2917.8 1937.1,2917.6 1936.3,2914.2 1935.5,2915.2 1934.7,2915.8 1933.9,2914.6 1933.1,2913.8 1932.3,2914.8 1931.5,2914.1 1930.7,2912.8 1929.9,2911.7 1929.1,2912.9 1928.3,2913.8 1927.5,2912.8 1926.7,2913.1 1925.9,2912.5 1925.1,2913.7 1924.3,2912.5 1923.5,2910.9 1922.7,2911.5 1921.9,2914.0 1921.1,2913.8 1920.3,2914.3 1919.5,2912.8 1918.7,2914.0 1917.9,2914.5 1917.1,2915.5 1916.3,2915.0 1915.5,2918.2 1914.7,2914.6 1913.9,2916.0 1913.1,2915.6 1912.3,2917.6 1911.5,2917.7 1910.7,2918.1 1909.9,2917.4 1909.1,2917.3 1908.3,2918.1 1907.5,2916.8 1906.7,2916.4 1905.9,2915.4 1905.1,2914.4 1904.3,2916.1 1903.5,2917.6 1902.7,2915.2 1901.9,2912.9 1901.1,2912.1 1900.3,2914.9 1899.5,2913.2 1898.7,2914.8 1897.9,2912.8 1897.1,2913.8 1896.3,2913.0 1895.5,2911.7 1894.7,2909.8 1893.9,2912.3 1893.1,2910.8 1892.3,2912.5 1891.5,2914.6 1890.7,2913.3 1889.9,2911.3 1889.1,2911.9 1888.3,2914.4 1887.5,2913.8 1886.7,2913.9 1885.9,2915.3 1885.1,2910.6 1884.3,2911.0 1883.5,2909.9 1882.7,2911.0 1881.9,2912.3 1881.1,2910.6 1880.3,2909.4 1879.5,2909.9 1878.7,2911.7 1877.9,2910.8 1877.1,2907.5 1876.3,2908.1 1875.5,2907.8 1874.7,2908.4 1873.9,2907.9 1873.1,2910.3 1872.3,2908.3 1871.5,2907.1 1870.7,2909.1 1869.9,2908.5 1869.1,2909.3 1868.3,2910.3 1867.5,2912.7 1866.7,2910.7 1865.9,2910.9 1865.1,2913.2 1864.3,2914.3 1863.5,2913.1 1862.7,2915.0 1861.9,2912.9 1861.1,2912.3 1860.3,2912.8 1859.5,2914.0 1858.7,2914.3 1857.9,2913.3 1857.1,2912.3 1856.3,2914.9 1855.5,2913.4 1854.7,2913.8 1853.9,2915.4 1853.1,2914.0 1852.3,2912.9 1851.5,2912.2 1850.7,2912.9 1849.9,2913.6 1849.1,2912.3 1848.3,2910.2 1847.5,2911.7 1846.7,2909.5 1845.9,2908.9 1845.1,2909.8 1844.3,2908.4 1843.5,2909.8 1842.7,2908.0 1841.9,2909.5 1841.1,2909.1 1840.3,2910.6 1839.5,2909.5 1838.7,2908.7 1837.9,2909.3 1837.1,2910.6 1836.3,2908.9 1835.5,2909.1 1834.7,2907.2 1833.9,2909.2 1833.1,2909.0 1832.3,2910.3 1831.5,2913.4 1830.7,2911.5 1829.9,2912.0 1829.1,2913.3 1828.3,2909.8 1827.5,2909.7 1826.7,2909.0 1825.9,2908.5 1825.1,2908.2 1824.3,2907.6 1823.5,2909.2 1822.7,2907.7 1821.9,2907.4 1821.1,2907.1 1820.3,2905.6 1819.5,2905.7 1818.7,2907.5 1817.9,2907.3 1817.1,2906.7 1816.3,2906.0 1815.5,2906.4 1814.7,2905.2 1813.9,2904.7 1813.1,2904.0 1812.3,2905.2 1811.5,2903.5 1810.7,2904.3 1809.9,2905.6 1809.1,2904.9 1808.3,2907.5 1807.5,2906.2 1806.7,2907.6 1805.9,2906.4 1805.1,2904.2 1804.3,2906.8 1803.5,2905.6 1802.7,2904.5 1801.9,2902.3 1801.1,2905.9 1800.3,2911.8 1799.5,2905.5 1798.7,2906.7 1797.9,2909.8 1797.1,2909.0 1796.3,2904.3 1795.5,2906.4 1794.7,2906.0 1793.9,2908.1 1793.1,2905.4 1792.3,2907.7 1791.5,2907.1 1790.7,2906.3 1789.9,2908.6 1789.1,2906.1 1788.3,2904.0 1787.5,2905.8 1786.7,2908.7 1785.9,2908.1 1785.1,2905.9 1784.3,2907.5 1783.5,2904.9 1782.7,2907.1 1781.9,2908.7 1781.1,2908.3 1780.3,2909.2 1779.5,2910.7 1778.7,2908.7 1777.9,2908.0 1777.1,2911.3 1776.3,2907.3 1775.5,2906.6 1774.7,2910.6 1773.9,2908.8 1773.1,2911.4 1772.3,2908.9 1771.5,2909.9 1770.7,2908.2 1769.9,2907.9 1769.1,2907.6 1768.3,2907.9 1767.5,2910.0 1766.7,2907.3 1765.9,2906.1 1765.1,2914.0 1764.3,2907.0 1763.5,2907.9 1762.7,2908.2 1761.9,2910.3 1761.1,2907.7 1760.3,2907.6 1759.5,2906.3 1758.7,2906.4 1757.9,2906.5 1757.1,2905.3 1756.3,2903.5 1755.5,2902.8 1754.7,2902.5 1753.9,2902.4 1753.1,2902.7 1752.3,2904.4 1751.5,2904.9 1750.7,2904.1 1749.9,2902.5 1749.1,2904.5 1748.3,2905.2 1747.5,2903.2 1746.7,2905.3 1745.9,2905.0 1745.1,2903.0 1744.3,2902.3 1743.5,2901.9 1742.7,2901.0 1741.9,2901.1 1741.1,2901.8 1740.3,2902.3 1739.5,2903.1 1738.7,2902.9 1737.9,2903.8 1737.1,2909.4 1736.3,2902.3 1735.5,2901.1 1734.7,2899.9 1733.9,2901.7 1733.1,2901.3 1732.3,2900.8 1731.5,2900.6 1730.7,2898.8 1729.9,2898.3 1729.1,2898.0 1728.3,2899.7 1727.5,2901.7 1726.7,2900.1 1725.9,2899.9 1725.1,2901.5 1724.3,2901.2 1723.5,2902.2 1722.7,2903.2 1721.9,2902.3 1721.1,2900.2 1720.3,2902.5 1719.5,2904.2 1718.7,2904.2 1717.9,2901.7 1717.1,2903.6 1716.3,2904.0 1715.5,2902.4 1714.7,2905.7 1713.9,2903.5 1713.1,2904.1 1712.3,2905.0 1711.5,2904.0 1710.7,2902.5 1709.9,2901.0 1709.1,2901.6 1708.3,2901.5 1707.5,2903.2 1706.7,2904.6 1705.9,2904.7 1705.1,2905.9 1704.3,2905.0 1703.5,2904.1 1702.7,2905.2 1701.9,2903.7 1701.1,2908.3 1700.3,2905.6 1699.5,2903.3 1698.7,2901.0 1697.9,2902.0 1697.1,2901.8 1696.3,2903.1 1695.5,2904.2 1694.7,2901.7 1693.9,2902.5 1693.1,2903.7 1692.3,2899.9 1691.5,2902.0 1690.7,2900.0 1689.9,2898.3 1689.1,2900.5 1688.3,2899.9 1687.5,2897.7 1686.7,2899.8 1685.9,2899.6 1685.1,2903.0 1684.3,2901.8 1683.5,2908.3 1682.7,2900.8 1681.9,2901.7 1681.1,2901.9 1680.3,2902.1 1679.5,2899.3 1678.7,2901.5 1677.9,2902.3 1677.1,2898.5 1676.3,2899.0 1675.5,2905.5 1674.7,2902.9 1673.9,2902.0 1673.1,2902.0 1672.3,2903.3 1671.5,2904.1 1670.7,2903.9 1669.9,2901.9 1669.1,2903.1 1668.3,2902.2 1667.5,2903.6 1666.7,2900.5 1665.9,2901.4 1665.1,2899.7 1664.3,2901.2 1663.5,2902.5 1662.7,2900.5 1661.9,2901.2 1661.1,2900.4 1660.3,2902.6 1659.5,2899.2 1658.7,2901.0 1657.9,2900.7 1657.1,2900.4 1656.3,2901.5 1655.5,2902.0 1654.7,2902.4 1653.9,2904.5 1653.1,2901.7 1652.3,2900.4 1651.5,2898.4 1650.7,2899.1 1649.9,2898.9 1649.1,2899.6 1648.3,2899.1 1647.5,2899.4 1646.7,2900.9 1645.9,2902.2 1645.1,2901.5 1644.3,2904.1 1643.5,2903.2 1642.7,2902.8 1641.9,2903.3 1641.1,2902.4 1640.3,2901.5 1639.5,2900.1 1638.7,2897.5 1637.9,2897.2 1637.1,2896.0 1636.3,2899.0 1635.5,2898.8 1634.7,2900.3 1633.9,2899.4 1633.1,2901.1 1632.3,2900.1 1631.5,2899.9 1630.7,2900.9 1629.9,2901.4 1629.1,2900.7 1628.3,2900.2 1627.5,2901.0 1626.7,2901.9 1625.9,2900.4 1625.1,2901.6 1624.3,2904.2 1623.5,2900.0 1622.7,2900.1 1621.9,2902.6 1621.1,2899.7 1620.3,2901.2 1619.5,2901.8 1618.7,2906.0 1617.9,2901.6 1617.1,2902.3 1616.3,2901.6 1615.5,2903.4 1614.7,2902.9 1613.9,2903.3 1613.1,2901.2 1612.3,2900.9 1611.5,2902.0 1610.7,2900.8 1609.9,2899.7 1609.1,2897.0 1608.3,2897.6 1607.5,2897.6 1606.7,2895.5 1605.9,2897.5 1605.1,2898.7 1604.3,2900.5 1603.5,2902.1 1602.7,2901.0 1601.9,2898.9 1601.1,2900.0 1600.3,2899.0 1599.5,2897.7 1598.7,2900.0 1597.9,2898.9 1597.1,2898.7 1596.3,2900.1 1595.5,2899.2 1594.7,2905.3 1593.9,2898.8 1593.1,2900.3 1592.3,2900.9 1591.5,2899.4 1590.7,2900.6 1589.9,2899.5 1589.1,2897.8 1588.3,2896.2 1587.5,2896.4 1586.7,2897.5 1585.9,2895.3 1585.1,2896.8 1584.3,2898.4 1583.5,2897.6 1582.7,2896.2 1581.9,2899.5 1581.1,2898.3 1580.3,2899.9 1579.5,2898.9 1578.7,2896.9 1577.9,2898.2 1577.1,2903.2 1576.3,2900.9 1575.5,2900.9 1574.7,2899.4 1573.9,2899.1 1573.1,2900.9 1572.3,2902.5 1571.5,2901.6 1570.7,2903.4 1569.9,2902.1 1569.1,2899.7 1568.3,2902.3 1567.5,2901.7 1566.7,2899.0 1565.9,2902.9 1565.1,2901.5 1564.3,2901.9 1563.5,2900.1 1562.7,2897.9 1561.9,2903.0 1561.1,2899.3 1560.3,2901.8 1559.5,2898.2 1558.7,2894.8 1557.9,2896.1 1557.1,2896.5 1556.3,2901.0 1555.5,2899.6 1554.7,2898.9 1553.9,2898.7 1553.1,2899.6 1552.3,2900.6 1551.5,2900.6 1550.7,2901.9 1549.9,2902.2 1549.1,2896.5 1548.3,2900.3 1547.5,2900.5 1546.7,2898.2 1545.9,2899.8 1545.1,2899.0 1544.3,2897.6 1543.5,2896.9 1542.7,2895.6 1541.9,2895.5 1541.1,2894.1 1540.3,2894.2 1539.5,2895.4 1538.7,2895.5 1537.9,2895.2 1537.1,2895.3 1536.3,2896.6 1535.5,2898.8 1534.7,2896.1 1533.9,2893.6 1533.1,2895.0 1532.3,2894.3 1531.5,2894.0 1530.7,2893.2 1529.9,2895.3 1529.1,2894.4 1528.3,2895.3 1527.5,2899.8 1526.7,2896.2 1525.9,2895.6 1525.1,2896.5 1524.3,2897.4 1523.5,2896.3 1522.7,2896.9 1521.9,2896.8 1521.1,2894.7 1520.3,2894.5 1519.5,2891.6 1518.7,2891.1 1517.9,2898.4 1517.1,2895.1 1516.3,2894.2 1515.5,2895.3 1514.7,2895.4 1513.9,2892.1 1513.1,2895.4 1512.3,2898.6 1511.5,2899.2 1510.7,2894.7 1509.9,2894.8 1509.1,2897.4 1508.3,2894.1 1507.5,2895.4 1506.7,2898.0 1505.9,2898.2 1505.1,2898.9 1504.3,2897.6 1503.5,2899.2 1502.7,2901.5 1501.9,2900.2 1501.1,2897.4 1500.3,2897.7 1499.5,2899.1 1498.7,2896.7 1497.9,2894.9 1497.1,2892.7 1496.3,2892.9 1495.5,2894.3 1494.7,2891.8 1493.9,2893.0 1493.1,2889.8 1492.3,2890.3 1491.5,2890.2 1490.7,2888.9 1489.9,2889.0 1489.1,2891.3 1488.3,2890.6 1487.5,2889.7 1486.7,2891.7 1485.9,2889.8 1485.1,2895.6 1484.3,2892.3 1483.5,2895.7 1482.7,2892.5 1481.9,2891.1 1481.1,2891.5 1480.3,2896.6 1479.5,2894.3 1478.7,2894.5 1477.9,2888.2 1477.1,2892.2 1476.3,2889.1 1475.5,2889.8 1474.7,2891.5 1473.9,2891.7 1473.1,2889.7 1472.3,2891.0 1471.5,2891.3 1470.7,2889.4 1469.9,2892.9 1469.1,2892.0 1468.3,2892.0 1467.5,2893.1 1466.7,2890.9 1465.9,2894.4 1465.1,2893.5 1464.3,2893.4 1463.5,2893.0 1462.7,2893.7 1461.9,2890.8 1461.1,2888.8 1460.3,2888.5 1459.5,2892.4 1458.7,2889.6 1457.9,2893.7 1457.1,2890.3 1456.3,2895.7 1455.5,2893.4 1454.7,2894.6 1453.9,2893.5 1453.1,2892.1 1452.3,2891.0 1451.5,2888.3 1450.7,2886.3 1449.9,2887.4 1449.1,2888.2 1448.3,2888.1 1447.5,2888.2 1446.7,2886.6 1445.9,2886.7 1445.1,2885.3 1444.3,2885.6 1443.5,2888.5 1442.7,2887.0 1441.9,2888.3 1441.1,2889.2 1440.3,2887.7 1439.5,2888.2 1438.7,2889.9 1437.9,2888.0 1437.1,2889.3 1436.3,2888.9 1435.5,2886.3 1434.7,2888.9 1433.9,2886.1 1433.1,2889.9 1432.3,2886.3 1431.5,2887.9 1430.7,2887.2 1429.9,2888.4 1429.1,2886.5 1428.3,2890.3 1427.5,2886.9 1426.7,2890.0 1425.9,2890.6 1425.1,2887.2 1424.3,2889.2 1423.5,2889.5 1422.7,2888.0 1421.9,2889.6 1421.1,2890.5 1420.3,2890.4 1419.5,2886.7 1418.7,2890.5 1417.9,2890.3 1417.1,2886.6 1416.3,2885.6 1415.5,2886.3 1414.7,2885.8 1413.9,2882.8 1413.1,2884.0 1412.3,2884.0 1411.5,2883.7 1410.7,2885.7 1409.9,2886.8 1409.1,2886.6 1408.3,2884.4 1407.5,2888.5 1406.7,2887.2 1405.9,2887.5 1405.1,2885.4 1404.3,2887.3 1403.5,2885.5 1402.7,2886.5 1401.9,2890.2 1401.1,2889.8 1400.3,2886.1 1399.5,2897.8 1398.7,2886.6 1397.9,2888.1 1397.1,2887.7 1396.3,2887.8 1395.5,2886.6 1394.7,2885.5 1393.9,2883.8 1393.1,2884.6 1392.3,2883.6 1391.5,2884.7 1390.7,2885.3 1389.9,2883.5 1389.1,2885.8 1388.3,2885.2 1387.5,2884.4 1386.7,2883.9 1385.9,2885.7 1385.1,2883.5 1384.3,2884.6 1383.5,2886.9 1382.7,2884.4 1381.9,2884.2 1381.1,2883.2 1380.3,2881.2 1379.5,2885.4 1378.7,2881.0 1377.9,2884.0 1377.1,2881.8 1376.3,2883.1 1375.5,2884.1 1374.7,2885.2 1373.9,2883.9 1373.1,2884.3 1372.3,2883.0 1371.5,2881.3 1370.7,2880.8 1369.9,2883.3 1369.1,2882.7 1368.3,2883.1 1367.5,2883.9 1366.7,2885.3 1365.9,2883.9 1365.1,2883.2 1364.3,2884.0 1363.5,2884.1 1362.7,2883.9 1361.9,2886.7 1361.1,2884.7 1360.3,2884.9 1359.5,2884.9 1358.7,2885.6 1357.9,2884.1 1357.1,2884.3 1356.3,2885.3 1355.5,2885.2 1354.7,2886.4 1353.9,2884.3 1353.1,2883.2 1352.3,2887.9 1351.5,2884.6 1350.7,2885.8 1349.9,2883.9 1349.1,2886.4 1348.3,2885.3 1347.5,2884.1 1346.7,2885.1 1345.9,2885.6 1345.1,2888.7 1344.3,2887.4 1343.5,2887.8 1342.7,2885.1 1341.9,2883.3 1341.1,2885.4 1340.3,2882.0 1339.5,2882.0 1338.7,2880.9 1337.9,2882.4 1337.1,2881.9 1336.3,2880.0 1335.5,2881.5 1334.7,2880.7 1333.9,2882.6 1333.1,2880.3 1332.3,2881.7 1331.5,2885.1 1330.7,2880.5 1329.9,2881.9 1329.1,2881.1 1328.3,2880.7 1327.5,2879.5 1326.7,2880.5 1325.9,2882.0 1325.1,2881.0 1324.3,2882.1 1323.5,2880.0 1322.7,2879.7 1321.9,2878.5 1321.1,2877.7 1320.3,2877.4 1319.5,2881.2 1318.7,2885.3 1317.9,2880.8 1317.1,2882.4 1316.3,2879.2 1315.5,2882.6 1314.7,2884.2 1313.9,2880.0 1313.1,2879.8 1312.3,2883.4 1311.5,2884.4 1310.7,2882.3 1309.9,2884.5 1309.1,2883.0 1308.3,2885.6 1307.5,2884.8 1306.7,2884.1 1305.9,2880.8 1305.1,2882.9 1304.3,2885.2 1303.5,2882.4 1302.7,2882.7 1301.9,2883.3 1301.1,2880.9 1300.3,2881.3 1299.5,2879.0 1298.7,2878.5 1297.9,2880.6 1297.1,2874.4 1296.3,2873.5 1295.5,2875.0 1294.7,2878.2 1293.9,2877.4 1293.1,2878.4 1292.3,2878.7 1291.5,2879.7 1290.7,2877.9 1289.9,2880.0 1289.1,2877.9 1288.3,2880.4 1287.5,2877.8 1286.7,2881.8 1285.9,2880.3 1285.1,2884.2 1284.3,2883.1 1283.5,2880.4 1282.7,2880.9 1281.9,2882.0 1281.1,2879.8 1280.3,2882.0 1279.5,2882.7 1278.7,2882.1 1277.9,2877.9 1277.1,2881.1 1276.3,2879.3 1275.5,2878.9 1274.7,2878.0 1273.9,2879.8 1273.1,2877.0 1272.3,2876.5 1271.5,2875.9 1270.7,2878.0 1269.9,2878.5 1269.1,2876.6 1268.3,2878.7 1267.5,2880.2 1266.7,2881.8 1265.9,2876.6 1265.1,2879.9 1264.3,2876.5 1263.5,2880.2 1262.7,2877.3 1261.9,2877.3 1261.1,2877.9 1260.3,2880.1 1259.5,2881.6 1258.7,2882.4 1257.9,2882.4 1257.1,2881.2 1256.3,2880.8 1255.5,2882.5 1254.7,2880.8 1253.9,2881.0 1253.1,2880.4 1252.3,2879.0 1251.5,2886.4 1250.7,2879.6 1249.9,2880.2 1249.1,2881.3 1248.3,2880.3 1247.5,2879.5 1246.7,2875.5 1245.9,2875.7 1245.1,2875.6 1244.3,2877.9 1243.5,2875.5 1242.7,2877.5 1241.9,2876.6 1241.1,2875.3 1240.3,2874.1 1239.5,2875.1 1238.7,2874.9 1237.9,2873.0 1237.1,2872.8 1236.3,2872.1 1235.5,2874.3 1234.7,2872.0 1233.9,2874.7 1233.1,2872.5 1232.3,2872.0 1231.5,2874.6 1230.7,2875.7 1229.9,2872.7 1229.1,2871.2 1228.3,2870.6 1227.5,2872.0 1226.7,2870.1 1225.9,2871.0 1225.1,2872.7 1224.3,2874.3 1223.5,2873.6 1222.7,2875.0 1221.9,2875.7 1221.1,2874.8 1220.3,2874.5 1219.5,2874.5 1218.7,2873.4 1217.9,2873.9 1217.1,2873.5 1216.3,2873.7 1215.5,2877.1 1214.7,2875.0 1213.9,2878.0 1213.1,2874.4 1212.3,2874.3 1211.5,2874.1 1210.7,2875.1 1209.9,2875.9 1209.1,2875.8 1208.3,2875.5 1207.5,2876.2 1206.7,2880.0 1205.9,2877.2 1205.1,2878.3 1204.3,2876.9 1203.5,2880.4 1202.7,2880.6 1201.9,2875.1 1201.1,2874.7 1200.3,2875.2 1199.5,2876.5 1198.7,2873.4 1197.9,2873.1 1197.1,2877.5 1196.3,2873.6 1195.5,2874.2 1194.7,2874.4 1193.9,2873.5 1193.1,2879.0 1192.3,2878.8 1191.5,2874.6 1190.7,2874.0 1189.9,2877.9 1189.1,2876.4 1188.3,2874.0 1187.5,2875.9 1186.7,2875.6 1185.9,2875.9 1185.1,2874.3 1184.3,2873.5 1183.5,2874.4 1182.7,2874.2 1181.9,2871.8 1181.1,2874.3 1180.3,2874.7 1179.5,2874.2 1178.7,2873.8 1177.9,2870.5 1177.1,2880.7 1176.3,2881.1 1175.5,2874.0 1174.7,2876.0 1173.9,2877.1 1173.1,2874.6 1172.3,2875.2 1171.5,2872.9 1170.7,2871.8 1169.9,2875.5 1169.1,2871.6 1168.3,2877.2 1167.5,2873.6 1166.7,2875.9 1165.9,2872.9 1165.1,2876.3 1164.3,2873.2 1163.5,2873.2 1162.7,2877.0 1161.9,2876.9 1161.1,2872.6 1160.3,2870.6 1159.5,2873.3 1158.7,2872.0 1157.9,2873.6 1157.1,2871.1 1156.3,2881.2 1155.5,2873.2 1154.7,2876.9 1153.9,2874.8 1153.1,2874.1 1152.3,2873.1 1151.5,2871.8 1150.7,2872.7 1149.9,2873.1 1149.1,2874.6 1148.3,2873.7 1147.5,2871.1 1146.7,2871.4 1145.9,2870.6 1145.1,2868.4 1144.3,2868.8 1143.5,2870.0 1142.7,2871.5 1141.9,2865.8 1141.1,2868.3 1140.3,2863.3 1139.5,2864.2 1138.7,2866.4 1137.9,2867.6 1137.1,2866.8 1136.3,2867.2 1135.5,2865.8 1134.7,2868.2 1133.9,2865.8 1133.1,2867.6 1132.3,2865.2 1131.5,2865.4 1130.7,2864.9 1129.9,2864.8 1129.1,2865.7 1128.3,2865.7 1127.5,2865.4 1126.7,2867.8 1125.9,2869.4 1125.1,2869.8 1124.3,2868.2 1123.5,2865.8 1122.7,2868.1 1121.9,2867.0 1121.1,2864.1 1120.3,2866.6 1119.5,2866.1 1118.7,2864.9 1117.9,2864.7 1117.1,2863.3 1116.3,2865.9 1115.5,2866.9 1114.7,2869.3 1113.9,2869.1 1113.1,2869.2 1112.3,2867.7 1111.5,2871.9 1110.7,2864.7 1109.9,2868.1 1109.1,2867.6 1108.3,2865.5 1107.5,2864.1 1106.7,2863.5 1105.9,2862.8 1105.1,2864.0 1104.3,2868.1 1103.5,2864.4 1102.7,2868.6 1101.9,2867.0 1101.1,2866.9 1100.3,2865.6 1099.5,2867.5 1098.7,2862.9 1097.9,2864.2 1097.1,2868.4 1096.3,2864.6 1095.5,2867.5 1094.7,2863.9 1093.9,2865.3 1093.1,2869.5 1092.3,2868.1 1091.5,2864.5 1090.7,2866.8 1089.9,2863.1 1089.1,2865.6 1088.3,2866.8 1087.5,2865.7 1086.7,2863.6 1085.9,2864.4 1085.1,2863.5 1084.3,2866.7 1083.5,2863.2 1082.7,2863.2 1081.9,2863.4 1081.1,2866.0 1080.3,2865.9 1079.5,2866.9 1078.7,2863.7 1077.9,2863.4 1077.1,2864.4 1076.3,2863.3 1075.5,2863.1 1074.7,2863.9 1073.9,2861.8 1073.1,2862.8 1072.3,2863.5 1071.5,2863.5 1070.7,2870.5 1069.9,2864.1 1069.1,2863.2 1068.3,2864.2 1067.5,2868.7 1066.7,2868.9 1065.9,2867.9 1065.1,2864.6 1064.3,2863.1 1063.5,2864.3 1062.7,2867.6 1061.9,2865.8 1061.1,2877.9 1060.3,2867.0 1059.5,2869.6 1058.7,2865.2 1057.9,2867.4 1057.1,2867.0 1056.3,2865.9 1055.5,2864.2 1054.7,2866.0 1053.9,2864.7 1053.1,2866.9 1052.3,2864.9 1051.5,2864.1 1050.7,2864.1 1049.9,2865.4 1049.1,2866.9 1048.3,2868.1 1047.5,2862.7 1046.7,2863.9 1045.9,2866.9 1045.1,2865.5 1044.3,2865.4 1043.5,2867.7 1042.7,2866.1 1041.9,2866.4 1041.1,2865.5 1040.3,2865.2 1039.5,2866.6 1038.7,2869.5 1037.9,2866.1 1037.1,2866.2 1036.3,2865.6 1035.5,2864.7 1034.7,2869.4 1033.9,2863.5 1033.1,2865.5 1032.3,2870.4 1031.5,2861.2 1030.7,2863.4 1029.9,2864.6 1029.1,2870.6 1028.3,2865.6 1027.5,2862.7 1026.7,2864.8 1025.9,2861.3 1025.1,2863.8 1024.3,2863.5 1023.5,2862.8 1022.7,2863.8 1021.9,2861.8 1021.1,2862.0 1020.3,2861.4 1019.5,2862.0 1018.7,2861.1 1017.9,2865.2 1017.1,2864.9 1016.3,2863.9 1015.5,2862.7 1014.7,2864.7 1013.9,2862.4 1013.1,2862.6 1012.3,2862.2 1011.5,2864.7 1010.7,2860.7 1009.9,2864.3 1009.1,2860.4 1008.3,2863.5 1007.5,2859.5 1006.7,2863.8 1005.9,2864.1 1005.1,2861.1 1004.3,2863.6 1003.5,2861.2 1002.7,2859.9 1001.9,2862.2 1001.1,2863.1 1000.3,2862.2 999.5,2861.1 998.7,2862.5 997.9,2864.2 997.1,2864.5 996.3,2861.1 995.5,2860.5 994.7,2859.8 993.9,2861.4 993.1,2858.5 992.3,2857.5 991.5,2861.6 990.7,2863.2 989.9,2859.1 989.1,2861.0 988.3,2861.7 987.5,2858.9 986.7,2861.6 985.9,2858.6 985.1,2863.6 984.3,2860.1 983.5,2858.7 982.7,2857.1 981.9,2861.8 981.1,2861.4 980.3,2857.0 979.5,2861.4 978.7,2858.3 977.9,2857.6 977.1,2857.1 976.3,2857.1 975.5,2857.1 974.7,2856.9 973.9,2857.0 973.1,2854.2 972.3,2855.0 971.5,2857.6 970.7,2860.0 969.9,2853.8 969.1,2854.1 968.3,2854.2 967.5,2858.0 966.7,2854.4 965.9,2855.6 965.1,2854.4 964.3,2854.0 963.5,2857.3 962.7,2855.2 961.9,2855.5 961.1,2857.1 960.3,2859.8 959.5,2860.0 958.7,2860.7 957.9,2860.2 957.1,2857.4 956.3,2858.4 955.5,2855.7 954.7,2858.0 953.9,2856.3 953.1,2856.9 952.3,2857.4 951.5,2855.8 950.7,2855.9 949.9,2859.0 949.1,2857.9 948.3,2858.2 947.5,2855.9 946.7,2857.0 945.9,2860.0 945.1,2858.6 944.3,2860.4 943.5,2857.3 942.7,2856.7 941.9,2854.8 941.1,2854.7 940.3,2854.0 939.5,2855.0 938.7,2856.3 937.9,2858.3 937.1,2857.2 936.3,2856.9 935.5,2857.5 934.7,2858.0 933.9,2860.9 933.1,2854.3 932.3,2857.9 931.5,2855.7 930.7,2860.7 929.9,2857.5 929.1,2858.7 928.3,2859.5 927.5,2860.2 926.7,2854.4 925.9,2855.0 925.1,2853.3 924.3,2852.7 923.5,2852.9 922.7,2855.0 921.9,2857.6 921.1,2855.8 920.3,2855.5 919.5,2860.2 918.7,2857.9 917.9,2855.0 917.1,2854.3 916.3,2855.1 915.5,2854.0 914.7,2853.4 913.9,2855.0 913.1,2851.7 912.3,2851.7 911.5,2849.8 910.7,2850.0 909.9,2848.8 909.1,2849.8 908.3,2850.4 907.5,2854.9 906.7,2851.7 905.9,2851.2 905.1,2850.2 904.3,2852.1 903.5,2850.1 902.7,2852.2 901.9,2853.4 901.1,2851.1 900.3,2850.6 899.5,2852.0 898.7,2850.8 897.9,2854.1 897.1,2853.2 896.3,2850.3 895.5,2852.3 894.7,2850.0 893.9,2851.6 893.1,2852.3 892.3,2849.8 891.5,2851.4 890.7,2852.1 889.9,2853.2 889.1,2855.2 888.3,2849.2 887.5,2850.6 886.7,2849.6 885.9,2851.1 885.1,2851.6 884.3,2851.6 883.5,2850.5 882.7,2850.9 881.9,2848.5 881.1,2847.9 880.3,2849.5 879.5,2850.9 878.7,2849.8 877.9,2852.3 877.1,2853.7 876.3,2854.1 875.5,2852.2 874.7,2853.6 873.9,2853.5 873.1,2851.6 872.3,2854.7 871.5,2852.9 870.7,2850.3 869.9,2848.9 869.1,2847.2 868.3,2849.6 867.5,2848.2 866.7,2850.3 865.9,2846.8 865.1,2846.7 864.3,2848.1 863.5,2848.6 862.7,2848.4 861.9,2847.4 861.1,2847.3 860.3,2847.0 859.5,2847.4 858.7,2849.9 857.9,2849.5 857.1,2847.7 856.3,2845.9 855.5,2846.2 854.7,2845.5 853.9,2845.8 853.1,2847.8 852.3,2847.8 851.5,2847.1 850.7,2848.7 849.9,2846.7 849.1,2849.0 848.3,2849.3 847.5,2847.6 846.7,2849.9 845.9,2847.6 845.1,2846.1 844.3,2848.1 843.5,2846.3 842.7,2850.9 841.9,2849.5 841.1,2850.5 840.3,2856.8 839.5,2851.3 838.7,2847.3 837.9,2847.4 837.1,2850.8 836.3,2845.7 835.5,2849.8 834.7,2850.6 833.9,2848.3 833.1,2849.2 832.3,2848.6 831.5,2844.5 830.7,2849.3 829.9,2850.0 829.1,2850.2 828.3,2844.9 827.5,2848.5 826.7,2844.9 825.9,2847.9 825.1,2846.3 824.3,2848.7 823.5,2843.8 822.7,2854.3 821.9,2846.9 821.1,2851.0 820.3,2845.6 819.5,2849.9 818.7,2846.7 817.9,2844.0 817.1,2845.2 816.3,2846.7 815.5,2848.5 814.7,2846.5 813.9,2844.6 813.1,2844.5 812.3,2848.0 811.5,2844.7 810.7,2845.0 809.9,2847.3 809.1,2844.1 808.3,2845.5 807.5,2845.3 806.7,2844.8 805.9,2843.7 805.1,2844.6 804.3,2845.0 803.5,2846.7 802.7,2848.0 801.9,2847.4 801.1,2847.9 800.3,2846.6 799.5,2849.5 798.7,2850.8 797.9,2848.3 797.1,2845.3 796.3,2850.6 795.5,2848.2 794.7,2850.5 793.9,2847.7 793.1,2846.7 792.3,2847.6 791.5,2845.9 790.7,2849.6 789.9,2849.6 789.1,2848.3 788.3,2851.0 787.5,2851.9 786.7,2856.2 785.9,2849.2 785.1,2845.2 784.3,2846.5 783.5,2846.5 782.7,2844.8 781.9,2841.4 781.1,2844.2 780.3,2844.5 779.5,2844.9 778.7,2842.9 777.9,2844.5 777.1,2842.0 776.3,2843.4 775.5,2839.7 774.7,2842.7 773.9,2840.9 773.1,2841.9 772.3,2840.7 771.5,2843.9 770.7,2842.7 769.9,2846.5 769.1,2848.1 768.3,2851.2 767.5,2844.9 766.7,2844.7 765.9,2852.8 765.1,2846.0 764.3,2850.4 763.5,2847.1 762.7,2850.7 761.9,2851.7 761.1,2844.6 760.3,2847.6 759.5,2845.3 758.7,2850.1 757.9,2846.6 757.1,2847.4 756.3,2845.2 755.5,2848.2 754.7,2848.0 753.9,2847.4 753.1,2844.1 752.3,2842.3 751.5,2842.9 750.7,2841.5 749.9,2842.3 749.1,2840.4 748.3,2841.7 747.5,2842.1 746.7,2841.8 745.9,2841.0 745.1,2843.0 744.3,2842.1 743.5,2843.5 742.7,2842.2 741.9,2839.8 741.1,2839.5 740.3,2839.3 739.5,2837.7 738.7,2838.8 737.9,2839.2 737.1,2840.8 736.3,2844.0 735.5,2844.3 734.7,2843.1 733.9,2843.4 733.1,2846.2 732.3,2844.3 731.5,2845.3 730.7,2847.1 729.9,2848.0 729.1,2847.1 728.3,2848.8 727.5,2845.6 726.7,2845.9 725.9,2850.8 725.1,2845.3 724.3,2848.9 723.5,2844.9 722.7,2847.5 721.9,2846.9 721.1,2845.9 720.3,2847.1 719.5,2846.6 718.7,2846.9 717.9,2847.9 717.1,2848.3 716.3,2844.0 715.5,2843.0 714.7,2847.3 713.9,2844.1 713.1,2843.3 712.3,2844.2 711.5,2843.0 710.7,2844.4 709.9,2842.2 709.1,2842.8 708.3,2843.6 707.5,2841.8 706.7,2840.7 705.9,2841.7 705.1,2847.6 704.3,2854.6 703.5,2848.2 702.7,2846.6 701.9,2845.8 701.1,2845.0 700.3,2840.7 699.5,2842.2 698.7,2840.7 697.9,2841.2 697.1,2840.4 696.3,2848.8 695.5,2839.2 694.7,2839.3 693.9,2842.5 693.1,2840.8 692.3,2845.7 691.5,2845.7 690.7,2841.1 689.9,2845.4 689.1,2840.9 688.3,2844.9 687.5,2844.1 686.7,2844.5 685.9,2845.2 685.1,2841.3 684.3,2841.0 683.5,2845.2 682.7,2844.6 681.9,2842.8 681.1,2841.6 680.3,2842.6 679.5,2842.6 678.7,2842.6 677.9,2843.3 677.1,2845.4 676.3,2843.7 675.5,2852.2 674.7,2839.3 673.9,2837.8 673.1,2842.5 672.3,2844.8 671.5,2841.6 670.7,2843.9 669.9,2839.6 669.1,2842.4 668.3,2841.9 667.5,2847.1 666.7,2843.4 665.9,2837.9 665.1,2844.3 664.3,2842.9 663.5,2841.3 662.7,2840.7 661.9,2842.3 661.1,2842.6 660.3,2844.0 659.5,2841.3 658.7,2838.8 657.9,2840.3 657.1,2840.1 656.3,2838.3 655.5,2837.8 654.7,2840.4 653.9,2842.8 653.1,2839.7 652.3,2839.8 651.5,2841.9 650.7,2843.6 649.9,2838.5 649.1,2836.5 648.3,2841.0 647.5,2837.3 646.7,2837.2 645.9,2838.8 645.1,2838.4 644.3,2839.2 643.5,2837.2 642.7,2840.7 641.9,2837.6 641.1,2837.8 640.3,2837.9 639.5,2839.5 638.7,2840.7 637.9,2838.7 637.1,2839.4 636.3,2837.8 635.5,2838.2 634.7,2837.2 633.9,2837.7 633.1,2838.8 632.3,2838.2 631.5,2840.8 630.7,2837.0 629.9,2848.6 629.1,2839.7 628.3,2840.5 627.5,2845.7 626.7,2841.3 625.9,2843.7 625.1,2844.9 624.3,2841.1 623.5,2843.6 622.7,2839.8 621.9,2844.4 621.1,2839.8 620.3,2839.9 619.5,2844.5 618.7,2837.6 617.9,2837.1 617.1,2836.0 616.3,2841.9 615.5,2836.5 614.7,2837.6 613.9,2836.6 613.1,2841.0 612.3,2841.3 611.5,2842.0 610.7,2839.1 609.9,2839.8 609.1,2850.9 608.3,2837.8 607.5,2844.6 606.7,2838.1 605.9,2842.9 605.1,2843.1 604.3,2840.2 603.5,2843.3 602.7,2844.2 601.9,2841.3 601.1,2844.4 600.3,2840.8 599.5,2837.6 598.7,2839.0 597.9,2839.5 597.1,2836.7 596.3,2836.5 595.5,2835.8 594.7,2835.3 593.9,2834.9 593.1,2830.4 592.3,2833.4 591.5,2837.0 590.7,2835.0 589.9,2832.3 589.1,2835.8 588.3,2830.0 587.5,2831.9 586.7,2831.0 585.9,2830.0 585.1,2829.1 584.3,2829.1 583.5,2830.5 582.7,2829.4 581.9,2827.9 581.1,2829.5 580.3,2830.0 579.5,2829.0 578.7,2833.0 577.9,2831.9 577.1,2833.7 576.3,2830.2 575.5,2829.9 574.7,2829.2 573.9,2833.2 573.1,2830.8 572.3,2830.5 571.5,2831.8 570.7,2833.6 569.9,2834.3 569.1,2832.6 568.3,2833.9 567.5,2832.9 566.7,2831.4 565.9,2833.2 565.1,2832.8 564.3,2833.2 563.5,2831.5 562.7,2838.6 561.9,2838.9 561.1,2831.4 560.3,2835.5 559.5,2829.6 558.7,2831.5 557.9,2828.7 557.1,2832.1 556.3,2833.5 555.5,2829.1 554.7,2828.9 553.9,2830.3 553.1,2828.1 552.3,2826.3 551.5,2827.4 550.7,2830.6 549.9,2832.8 549.1,2832.6 548.3,2828.1 547.5,2830.5 546.7,2829.8 545.9,2834.1 545.1,2831.1 544.3,2832.0 543.5,2831.4 542.7,2831.0 541.9,2833.7 541.1,2831.1 540.3,2830.1 539.5,2830.5 538.7,2835.2 537.9,2831.2 537.1,2833.8 536.3,2832.2 535.5,2831.1 534.7,2833.5 533.9,2833.7 533.1,2833.1 532.3,2830.1 531.5,2831.4 530.7,2831.1 529.9,2828.4 529.1,2832.0 528.3,2832.1 527.5,2832.1 526.7,2830.9 525.9,2832.8 525.1,2828.6 524.3,2833.5 523.5,2831.0 522.7,2832.2 521.9,2833.6 521.1,2833.7 520.3,2834.9 519.5,2836.1 518.7,2832.2 517.9,2833.4 517.1,2831.5 516.3,2833.4 515.5,2833.1 514.7,2834.8 513.9,2833.8 513.1,2828.3 512.3,2832.4 511.5,2831.2 510.7,2832.5 509.9,2833.6 509.1,2835.0 508.3,2833.7 507.5,2831.8 506.7,2829.6 505.9,2830.8 505.1,2830.6 504.3,2833.8 503.5,2833.4 502.7,2834.3 501.9,2832.3 501.1,2831.8 500.3,2833.6 499.5,2831.4 498.7,2830.8 497.9,2832.0 497.1,2830.5 496.3,2830.3 495.5,2830.0 494.7,2830.1 493.9,2828.4 493.1,2831.4 492.3,2830.1 491.5,2831.1 490.7,2831.2 489.9,2831.1 489.1,2827.7 488.3,2827.2 487.5,2829.8 486.7,2831.4 485.9,2829.5 485.1,2826.9 484.3,2826.7 483.5,2826.3 482.7,2825.1 481.9,2825.6 481.1,2823.6 480.3,2822.8 479.5,2825.0 478.7,2822.7 477.9,2823.8 477.1,2822.3 476.3,2824.2 475.5,2826.1 474.7,2829.2 473.9,2826.1 473.1,2823.8 472.3,2831.7 471.5,2825.5 470.7,2827.0 469.9,2824.3 469.1,2824.2 468.3,2826.4 467.5,2825.1 466.7,2823.8 465.9,2826.8 465.1,2831.2 464.3,2828.7 463.5,2827.1 462.7,2827.5 461.9,2825.3 461.1,2824.0 460.3,2824.9 459.5,2825.3 458.7,2825.2 457.9,2827.2 457.1,2823.8 456.3,2824.3 455.5,2826.8 454.7,2826.0 453.9,2827.1 453.1,2828.2 452.3,2826.3 451.5,2829.7 450.7,2826.0 449.9,2826.5 449.1,2828.2 448.3,2829.2 447.5,2826.9 446.7,2829.3 445.9,2831.4 445.1,2828.4 444.3,2826.0 443.5,2823.8 442.7,2825.9 441.9,2824.7 441.1,2822.6 440.3,2822.9 439.5,2832.0 438.7,2827.6 437.9,2831.0 437.1,2831.6 436.3,2825.2 435.5,2825.9 434.7,2823.9 433.9,2824.7 433.1,2823.4 432.3,2823.5 431.5,2823.3 430.7,2824.7 429.9,2825.0 429.1,2826.5 428.3,2823.6 427.5,2821.6 426.7,2820.8 425.9,2819.8 425.1,2820.5 424.3,2819.1 423.5,2823.5 422.7,2821.2 421.9,2822.8 421.1,2823.4 420.3,2822.4 419.5,2823.7 418.7,2822.1 417.9,2819.9 417.1,2821.8 416.3,2822.3 415.5,2822.3 414.7,2821.3 413.9,2821.3 413.1,2821.1 412.3,2821.4 411.5,2821.3 410.7,2820.8 409.9,2818.9 409.1,2821.0 408.3,2818.5 407.5,2819.6 406.7,2817.8 405.9,2819.0 405.1,2819.2 404.3,2818.0 403.5,2819.4 402.7,2817.6 401.9,2814.7 401.1,2814.1 400.3,2814.4 399.5,2816.4 398.7,2816.2 397.9,2817.7 397.1,2817.1 396.3,2815.9 395.5,2822.8 394.7,2819.2 393.9,2819.8 393.1,2821.7 392.3,2821.9 391.5,2824.8 390.7,2823.9 389.9,2820.2 389.1,2820.1 388.3,2824.6 387.5,2819.6 386.7,2829.7 385.9,2820.6 385.1,2825.2 384.3,2821.6 383.5,2821.6 382.7,2824.2 381.9,2826.0 381.1,2823.8 380.3,2824.4 379.5,2821.0 378.7,2823.9 377.9,2823.1 377.1,2820.2 376.3,2825.1 375.5,2823.7 374.7,2824.2 373.9,2826.3 373.1,2822.9 372.3,2823.3 371.5,2824.6 370.7,2825.3 369.9,2822.6 369.1,2823.9 368.3,2820.0 367.5,2822.2 366.7,2824.1 365.9,2823.0 365.1,2823.9 364.3,2822.0 363.5,2822.0 362.7,2822.7 361.9,2827.0 361.1,2822.8 360.3,2823.6 359.5,2824.9 358.7,2826.2 357.9,2823.0 357.1,2822.5 356.3,2823.3 355.5,2820.3 354.7,2822.2 353.9,2820.8 353.1,2822.1 352.3,2819.5 351.5,2819.3 350.7,2819.7 349.9,2818.9 349.1,2816.8 348.3,2819.5 347.5,2819.1 346.7,2815.2 345.9,2818.4 345.1,2821.6 344.3,2820.0 343.5,2820.4 342.7,2820.5 341.9,2820.9 341.1,2822.9 340.3,2819.1 339.5,2824.1 338.7,2828.8 337.9,2828.8 337.1,2827.0 336.3,2828.0 335.5,2827.8 334.7,2822.2 333.9,2821.5 333.1,2826.3 332.3,2821.0 331.5,2824.5 330.7,2824.3 329.9,2824.1 329.1,2820.4 328.3,2819.4 327.5,2819.9 326.7,2819.2 325.9,2816.4 325.1,2817.6 324.3,2818.0 323.5,2820.4 322.7,2821.8 321.9,2818.8 321.1,2821.7 320.3,2823.4 319.5,2820.3 318.7,2826.0 317.9,2820.2 317.1,2821.2 316.3,2821.6 315.5,2819.4"/>
<g font-size="36" fill="#1a1a1a">
<text transform="translate(708.2,2334.0) rotate(-90)">2758.3</text>
<text transform="translate(771.5,2655.3) rotate(-90)">2829.3</text>
<text transform="translate(836.5,2056.7) rotate(-90)">2902.3</text>
<text transform="translate(899.9,2637.7) rotate(-90)">2973.4</text>
<text transform="translate(964.9,2091.9) rotate(-90)">3046.4</text>
<text transform="translate(1028.2,2650.9) rotate(-90)">3117.4</text>
<text transform="translate(1092.4,2206.3) rotate(-90)">3189.5</text>
<text transform="translate(1155.7,2670.7) rotate(-90)">3260.5</text>
<text transform="translate(1220.7,2294.4) rotate(-90)">3333.5</text>
<text transform="translate(1284.1,2683.9) rotate(-90)">3404.6</text>
<text transform="translate(1349.1,2404.4) rotate(-90)">3477.6</text>
<text transform="translate(1477.5,2527.7) rotate(-90)">3621.7</text>
<text transform="translate(1605.8,2595.9) rotate(-90)">3765.7</text>
<text transform="translate(1734.2,2703.7) rotate(-90)">3909.8</text>
</g>
</svg>
</body></html>
